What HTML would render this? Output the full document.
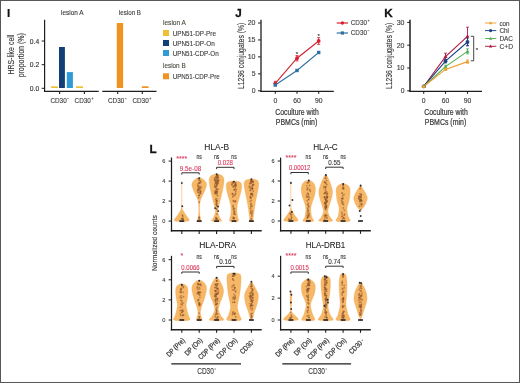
<!DOCTYPE html>
<html><head><meta charset="utf-8"><style>
html,body{margin:0;padding:0;background:#fff;}
body{width:520px;height:383px;overflow:hidden;position:relative;}
svg{position:absolute;left:0;top:0;font-family:"Liberation Sans", sans-serif;will-change:transform;}
.bd{position:absolute;left:0;top:0;width:518px;height:381px;border:1px solid #585858;}
</style></head><body>
<svg width="520" height="383" viewBox="0 0 520 383">
<text x="6.9" y="16.8" font-size="11.7" text-anchor="start" fill="#111" font-weight="bold" stroke="#111" stroke-width="0.2">I</text>
<text x="72.3" y="15.2" font-size="7" text-anchor="middle" fill="#3a3a3a" font-weight="normal" textLength="22.5" lengthAdjust="spacingAndGlyphs" stroke="#3a3a3a" stroke-width="0.12">lesion A</text>
<text x="130" y="15.2" font-size="7" text-anchor="middle" fill="#3a3a3a" font-weight="normal" textLength="22" lengthAdjust="spacingAndGlyphs" stroke="#3a3a3a" stroke-width="0.12">lesion B</text>
<line x1="44.6" y1="19.7" x2="44.6" y2="92.0" stroke="#1e1e1e" stroke-width="1.2"/>
<line x1="41.7" y1="88.3" x2="44.6" y2="88.3" stroke="#1e1e1e" stroke-width="1"/>
<text x="39.2" y="91.0" font-size="6.9" text-anchor="end" fill="#3a3a3a" font-weight="normal" textLength="9.4" lengthAdjust="spacingAndGlyphs" stroke="#3a3a3a" stroke-width="0.16">0.0</text>
<line x1="41.7" y1="64.7" x2="44.6" y2="64.7" stroke="#1e1e1e" stroke-width="1"/>
<text x="39.2" y="67.4" font-size="6.9" text-anchor="end" fill="#3a3a3a" font-weight="normal" textLength="9.4" lengthAdjust="spacingAndGlyphs" stroke="#3a3a3a" stroke-width="0.16">0.2</text>
<line x1="41.7" y1="41.0" x2="44.6" y2="41.0" stroke="#1e1e1e" stroke-width="1"/>
<text x="39.2" y="43.7" font-size="6.9" text-anchor="end" fill="#3a3a3a" font-weight="normal" textLength="9.4" lengthAdjust="spacingAndGlyphs" stroke="#3a3a3a" stroke-width="0.16">0.4</text>
<text transform="translate(14.00,54.60) rotate(-90)" font-size="8.3" text-anchor="middle" fill="#3a3a3a" stroke="#3a3a3a" stroke-width="0.15" textLength="40" lengthAdjust="spacingAndGlyphs">HRS-like cell</text>
<text transform="translate(23.80,55.30) rotate(-90)" font-size="8.3" text-anchor="middle" fill="#3a3a3a" stroke="#3a3a3a" stroke-width="0.15" textLength="44" lengthAdjust="spacingAndGlyphs">proportion (%)</text>
<line x1="44.1" y1="91.45" x2="98.7" y2="91.45" stroke="#1e1e1e" stroke-width="1.25"/>
<line x1="102.3" y1="91.45" x2="156.5" y2="91.45" stroke="#1e1e1e" stroke-width="1.25"/>
<line x1="59.6" y1="91.4" x2="59.6" y2="94.0" stroke="#1e1e1e" stroke-width="1.1"/>
<line x1="84.4" y1="91.4" x2="84.4" y2="94.0" stroke="#1e1e1e" stroke-width="1.1"/>
<line x1="117.7" y1="91.4" x2="117.7" y2="94.0" stroke="#1e1e1e" stroke-width="1.1"/>
<line x1="142.3" y1="91.4" x2="142.3" y2="94.0" stroke="#1e1e1e" stroke-width="1.1"/>
<rect x="51.1" y="86.3" width="6.9" height="1.7" fill="#EDC035"/>
<rect x="59" y="47" width="5.9" height="41" fill="#123F76"/>
<rect x="66.8" y="72.1" width="6.1" height="15.9" fill="#2F9AD6"/>
<rect x="76" y="86.3" width="7.0" height="1.7" fill="#EDC035"/>
<rect x="116.8" y="23" width="6.3" height="65" fill="#EE9220"/>
<rect x="141.8" y="86.3" width="6.8" height="1.7" fill="#EE9220"/>
<text x="50.4" y="103.0" font-size="7.5" text-anchor="start" fill="#3a3a3a" font-weight="normal" textLength="16.3" lengthAdjust="spacingAndGlyphs" stroke="#3a3a3a" stroke-width="0.12">CD30</text>
<line x1="67.3" y1="98.55" x2="68.89999999999999" y2="98.55" stroke="#3a3a3a" stroke-width="0.6"/>
<text x="74.6" y="103.0" font-size="7.5" text-anchor="start" fill="#3a3a3a" font-weight="normal" textLength="16.3" lengthAdjust="spacingAndGlyphs" stroke="#3a3a3a" stroke-width="0.12">CD30</text>
<line x1="91.49999999999999" y1="98.55" x2="93.49999999999999" y2="98.55" stroke="#3a3a3a" stroke-width="0.5"/>
<line x1="92.49999999999999" y1="97.55" x2="92.49999999999999" y2="99.55" stroke="#3a3a3a" stroke-width="0.5"/>
<text x="108.0" y="103.0" font-size="7.5" text-anchor="start" fill="#3a3a3a" font-weight="normal" textLength="16.3" lengthAdjust="spacingAndGlyphs" stroke="#3a3a3a" stroke-width="0.12">CD30</text>
<line x1="124.89999999999999" y1="98.55" x2="126.49999999999999" y2="98.55" stroke="#3a3a3a" stroke-width="0.6"/>
<text x="132.4" y="103.0" font-size="7.5" text-anchor="start" fill="#3a3a3a" font-weight="normal" textLength="16.3" lengthAdjust="spacingAndGlyphs" stroke="#3a3a3a" stroke-width="0.12">CD30</text>
<line x1="149.3" y1="98.55" x2="151.3" y2="98.55" stroke="#3a3a3a" stroke-width="0.5"/>
<line x1="150.3" y1="97.55" x2="150.3" y2="99.55" stroke="#3a3a3a" stroke-width="0.5"/>
<text x="163" y="25.3" font-size="7" text-anchor="start" fill="#4a4a40" font-weight="normal" textLength="23" lengthAdjust="spacingAndGlyphs" stroke="#4a4a40" stroke-width="0.12">lesion A</text>
<rect x="163" y="30" width="6" height="6" fill="#EDC035"/>
<text x="172.7" y="35.6" font-size="7" text-anchor="start" fill="#3a3a3a" font-weight="normal" textLength="43.3" lengthAdjust="spacingAndGlyphs" stroke="#3a3a3a" stroke-width="0.12">UPN51-DP-Pre</text>
<rect x="163" y="40" width="6" height="6" fill="#123F76"/>
<text x="172.7" y="45.6" font-size="7" text-anchor="start" fill="#3a3a3a" font-weight="normal" textLength="42" lengthAdjust="spacingAndGlyphs" stroke="#3a3a3a" stroke-width="0.12">UPN51-DP-On</text>
<rect x="163" y="50" width="6" height="6" fill="#2F9AD6"/>
<text x="172.7" y="55.6" font-size="7" text-anchor="start" fill="#3a3a3a" font-weight="normal" textLength="46" lengthAdjust="spacingAndGlyphs" stroke="#3a3a3a" stroke-width="0.12">UPN51-CDP-On</text>
<text x="163" y="68.4" font-size="7" text-anchor="start" fill="#4a4a40" font-weight="normal" textLength="22.7" lengthAdjust="spacingAndGlyphs" stroke="#4a4a40" stroke-width="0.12">lesion B</text>
<rect x="163" y="73.3" width="6" height="6" fill="#EE9220"/>
<text x="172.7" y="78.9" font-size="7" text-anchor="start" fill="#3a3a3a" font-weight="normal" textLength="47" lengthAdjust="spacingAndGlyphs" stroke="#3a3a3a" stroke-width="0.12">UPN51-CDP-Pre</text>
<text x="235.3" y="16.6" font-size="11.7" text-anchor="start" fill="#111" font-weight="bold" stroke="#111" stroke-width="0.3">J</text>
<line x1="261.0" y1="19.7" x2="261.0" y2="91.9" stroke="#1e1e1e" stroke-width="1.3"/>
<line x1="258" y1="90.8" x2="260.8" y2="90.8" stroke="#1e1e1e" stroke-width="1"/>
<text x="255.5" y="93.2" font-size="6.8" text-anchor="end" fill="#3a3a3a" font-weight="normal" textLength="3.8" lengthAdjust="spacingAndGlyphs" stroke="#3a3a3a" stroke-width="0.12">0</text>
<line x1="258" y1="73.85" x2="260.8" y2="73.85" stroke="#1e1e1e" stroke-width="1"/>
<text x="255.5" y="76.25" font-size="6.8" text-anchor="end" fill="#3a3a3a" font-weight="normal" textLength="3.8" lengthAdjust="spacingAndGlyphs" stroke="#3a3a3a" stroke-width="0.12">5</text>
<line x1="258" y1="56.9" x2="260.8" y2="56.9" stroke="#1e1e1e" stroke-width="1"/>
<text x="255.5" y="59.3" font-size="6.8" text-anchor="end" fill="#3a3a3a" font-weight="normal" textLength="7.8" lengthAdjust="spacingAndGlyphs" stroke="#3a3a3a" stroke-width="0.12">10</text>
<line x1="258" y1="39.949999999999996" x2="260.8" y2="39.949999999999996" stroke="#1e1e1e" stroke-width="1"/>
<text x="255.5" y="42.349999999999994" font-size="6.8" text-anchor="end" fill="#3a3a3a" font-weight="normal" textLength="7.8" lengthAdjust="spacingAndGlyphs" stroke="#3a3a3a" stroke-width="0.12">15</text>
<line x1="258" y1="23.0" x2="260.8" y2="23.0" stroke="#1e1e1e" stroke-width="1"/>
<text x="255.5" y="25.4" font-size="6.8" text-anchor="end" fill="#3a3a3a" font-weight="normal" textLength="7.8" lengthAdjust="spacingAndGlyphs" stroke="#3a3a3a" stroke-width="0.12">20</text>
<text transform="translate(243.90,55.90) rotate(-90)" font-size="8.8" text-anchor="middle" fill="#3a3a3a" stroke="#3a3a3a" stroke-width="0.15" textLength="66.4" lengthAdjust="spacingAndGlyphs">L1236 conjugates (%)</text>
<line x1="260.4" y1="91.3" x2="333.8" y2="91.3" stroke="#1e1e1e" stroke-width="1.3"/>
<line x1="275.3" y1="91.3" x2="275.3" y2="93.8" stroke="#1e1e1e" stroke-width="1.1"/>
<text x="275.3" y="103.2" font-size="6.8" text-anchor="middle" fill="#3a3a3a" font-weight="normal" textLength="3.8" lengthAdjust="spacingAndGlyphs" stroke="#3a3a3a" stroke-width="0.12">0</text>
<line x1="297" y1="91.3" x2="297" y2="93.8" stroke="#1e1e1e" stroke-width="1.1"/>
<text x="297" y="103.2" font-size="6.8" text-anchor="middle" fill="#3a3a3a" font-weight="normal" textLength="7.6" lengthAdjust="spacingAndGlyphs" stroke="#3a3a3a" stroke-width="0.12">60</text>
<line x1="318.7" y1="91.3" x2="318.7" y2="93.8" stroke="#1e1e1e" stroke-width="1.1"/>
<text x="318.7" y="103.2" font-size="6.8" text-anchor="middle" fill="#3a3a3a" font-weight="normal" textLength="7.6" lengthAdjust="spacingAndGlyphs" stroke="#3a3a3a" stroke-width="0.12">90</text>
<text x="297" y="115.2" font-size="8.6" text-anchor="middle" fill="#3a3a3a" font-weight="normal" textLength="43.5" lengthAdjust="spacingAndGlyphs" stroke="#3a3a3a" stroke-width="0.22">Coculture with</text>
<text x="296.5" y="124.7" font-size="8.6" text-anchor="middle" fill="#3a3a3a" font-weight="normal" textLength="41.5" lengthAdjust="spacingAndGlyphs" stroke="#3a3a3a" stroke-width="0.22">PBMCs (min)</text>
<polyline points="275.3,85.04 297,70.46 318.7,52.49" fill="none" stroke="#2F6FA2" stroke-width="1.05"/>
<polyline points="275.3,83.34 297,58.26 318.7,40.97" fill="none" stroke="#D6202F" stroke-width="1.1"/>
<line x1="275.3" y1="81.30799999999999" x2="275.3" y2="85.37599999999999" stroke="#D6202F" stroke-width="0.9"/>
<line x1="273.8" y1="81.30799999999999" x2="276.8" y2="81.30799999999999" stroke="#D6202F" stroke-width="0.8"/>
<line x1="273.8" y1="85.37599999999999" x2="276.8" y2="85.37599999999999" stroke="#D6202F" stroke-width="0.8"/>
<circle cx="275.3" cy="83.34" r="1.9" fill="#D6202F"/>
<line x1="297" y1="55.544" x2="297" y2="60.968" stroke="#D6202F" stroke-width="0.9"/>
<line x1="295.5" y1="55.544" x2="298.5" y2="55.544" stroke="#D6202F" stroke-width="0.8"/>
<line x1="295.5" y1="60.968" x2="298.5" y2="60.968" stroke="#D6202F" stroke-width="0.8"/>
<circle cx="297" cy="58.26" r="1.9" fill="#D6202F"/>
<line x1="318.7" y1="37.577" x2="318.7" y2="44.357" stroke="#D6202F" stroke-width="0.9"/>
<line x1="317.2" y1="37.577" x2="320.2" y2="37.577" stroke="#D6202F" stroke-width="0.8"/>
<line x1="317.2" y1="44.357" x2="320.2" y2="44.357" stroke="#D6202F" stroke-width="0.8"/>
<circle cx="318.7" cy="40.97" r="1.9" fill="#D6202F"/>
<rect x="273.6" y="83.34" width="3.4" height="3.4" fill="#2F6FA2"/>
<rect x="295.3" y="68.76" width="3.4" height="3.4" fill="#2F6FA2"/>
<rect x="317.0" y="50.79" width="3.4" height="3.4" fill="#2F6FA2"/>
<text x="297" y="56.2" font-size="6" text-anchor="middle" fill="#333" font-weight="normal" stroke="#333" stroke-width="0.12">*</text>
<text x="318.7" y="37.9" font-size="6" text-anchor="middle" fill="#333" font-weight="normal" stroke="#333" stroke-width="0.12">*</text>
<line x1="336.7" y1="23" x2="348" y2="23" stroke="#D6202F" stroke-width="1.2"/>
<circle cx="342.4" cy="23" r="1.7" fill="#D6202F"/>
<line x1="336.7" y1="33" x2="348" y2="33" stroke="#2F6FA2" stroke-width="1.2"/>
<rect x="340.8" y="31.4" width="3.2" height="3.2" fill="#2F6FA2"/>
<text x="350.8" y="25.3" font-size="7.8" text-anchor="start" fill="#3a3a3a" font-weight="normal" textLength="16.2" lengthAdjust="spacingAndGlyphs" stroke="#3a3a3a" stroke-width="0.12">CD30</text>
<line x1="367.6" y1="20.628" x2="369.6" y2="20.628" stroke="#3a3a3a" stroke-width="0.5"/>
<line x1="368.6" y1="19.628" x2="368.6" y2="21.628" stroke="#3a3a3a" stroke-width="0.5"/>
<text x="350.8" y="35.3" font-size="7.8" text-anchor="start" fill="#3a3a3a" font-weight="normal" textLength="16.2" lengthAdjust="spacingAndGlyphs" stroke="#3a3a3a" stroke-width="0.12">CD30</text>
<line x1="367.6" y1="30.628" x2="369.20000000000005" y2="30.628" stroke="#3a3a3a" stroke-width="0.6"/>
<text x="384.3" y="16.6" font-size="11.7" text-anchor="start" fill="#111" font-weight="bold" stroke="#111" stroke-width="0.3">K</text>
<line x1="410" y1="19.7" x2="410" y2="91.9" stroke="#1e1e1e" stroke-width="1.5"/>
<line x1="407.2" y1="90.8" x2="410" y2="90.8" stroke="#1e1e1e" stroke-width="1"/>
<text x="404.5" y="93.2" font-size="6.8" text-anchor="end" fill="#3a3a3a" font-weight="normal" textLength="3.8" lengthAdjust="spacingAndGlyphs" stroke="#3a3a3a" stroke-width="0.12">0</text>
<line x1="407.2" y1="68.0" x2="410" y2="68.0" stroke="#1e1e1e" stroke-width="1"/>
<text x="404.5" y="70.4" font-size="6.8" text-anchor="end" fill="#3a3a3a" font-weight="normal" textLength="7.8" lengthAdjust="spacingAndGlyphs" stroke="#3a3a3a" stroke-width="0.12">10</text>
<line x1="407.2" y1="45.2" x2="410" y2="45.2" stroke="#1e1e1e" stroke-width="1"/>
<text x="404.5" y="47.6" font-size="6.8" text-anchor="end" fill="#3a3a3a" font-weight="normal" textLength="7.8" lengthAdjust="spacingAndGlyphs" stroke="#3a3a3a" stroke-width="0.12">20</text>
<line x1="407.2" y1="22.400000000000006" x2="410" y2="22.400000000000006" stroke="#1e1e1e" stroke-width="1"/>
<text x="404.5" y="24.800000000000004" font-size="6.8" text-anchor="end" fill="#3a3a3a" font-weight="normal" textLength="7.8" lengthAdjust="spacingAndGlyphs" stroke="#3a3a3a" stroke-width="0.12">30</text>
<text transform="translate(392.10,55.90) rotate(-90)" font-size="8.8" text-anchor="middle" fill="#3a3a3a" stroke="#3a3a3a" stroke-width="0.15" textLength="66.4" lengthAdjust="spacingAndGlyphs">L1236 conjugates (%)</text>
<line x1="409.3" y1="91.3" x2="482" y2="91.3" stroke="#1e1e1e" stroke-width="1.3"/>
<line x1="423.7" y1="91.3" x2="423.7" y2="93.8" stroke="#1e1e1e" stroke-width="1.1"/>
<text x="423.7" y="103.2" font-size="6.8" text-anchor="middle" fill="#3a3a3a" font-weight="normal" textLength="3.8" lengthAdjust="spacingAndGlyphs" stroke="#3a3a3a" stroke-width="0.12">0</text>
<line x1="445.5" y1="91.3" x2="445.5" y2="93.8" stroke="#1e1e1e" stroke-width="1.1"/>
<text x="445.5" y="103.2" font-size="6.8" text-anchor="middle" fill="#3a3a3a" font-weight="normal" textLength="7.6" lengthAdjust="spacingAndGlyphs" stroke="#3a3a3a" stroke-width="0.12">60</text>
<line x1="467.5" y1="91.3" x2="467.5" y2="93.8" stroke="#1e1e1e" stroke-width="1.1"/>
<text x="467.5" y="103.2" font-size="6.8" text-anchor="middle" fill="#3a3a3a" font-weight="normal" textLength="7.6" lengthAdjust="spacingAndGlyphs" stroke="#3a3a3a" stroke-width="0.12">90</text>
<text x="446" y="115.2" font-size="8.6" text-anchor="middle" fill="#3a3a3a" font-weight="normal" textLength="43.5" lengthAdjust="spacingAndGlyphs" stroke="#3a3a3a" stroke-width="0.22">Coculture with</text>
<text x="445.5" y="124.7" font-size="8.6" text-anchor="middle" fill="#3a3a3a" font-weight="normal" textLength="41.5" lengthAdjust="spacingAndGlyphs" stroke="#3a3a3a" stroke-width="0.22">PBMCs (min)</text>
<polyline points="423.7,86.47 445.5,56.60 467.5,36.31" fill="none" stroke="#AE1A3E" stroke-width="1.1"/>
<polyline points="423.7,86.47 445.5,61.16 467.5,42.01" fill="none" stroke="#1A4286" stroke-width="1.1"/>
<polyline points="423.7,86.47 445.5,66.63 467.5,51.36" fill="none" stroke="#52AE52" stroke-width="1.1"/>
<polyline points="423.7,86.47 445.5,69.37 467.5,61.62" fill="none" stroke="#EE9E2E" stroke-width="1.1"/>
<line x1="423.7" y1="85.78399999999999" x2="423.7" y2="87.152" stroke="#AE1A3E" stroke-width="0.9"/>
<line x1="422.2" y1="85.78399999999999" x2="425.2" y2="85.78399999999999" stroke="#AE1A3E" stroke-width="0.8"/>
<line x1="422.2" y1="87.152" x2="425.2" y2="87.152" stroke="#AE1A3E" stroke-width="0.8"/>
<path d="M421.7,87.77 L425.7,87.77 L423.7,84.47Z" fill="#AE1A3E"/>
<line x1="445.5" y1="53.18" x2="445.5" y2="60.019999999999996" stroke="#AE1A3E" stroke-width="0.9"/>
<line x1="444.0" y1="53.18" x2="447.0" y2="53.18" stroke="#AE1A3E" stroke-width="0.8"/>
<line x1="444.0" y1="60.019999999999996" x2="447.0" y2="60.019999999999996" stroke="#AE1A3E" stroke-width="0.8"/>
<path d="M443.5,57.90 L447.5,57.90 L445.5,54.60Z" fill="#AE1A3E"/>
<line x1="467.5" y1="27.188000000000002" x2="467.5" y2="45.428000000000004" stroke="#AE1A3E" stroke-width="0.9"/>
<line x1="466.0" y1="27.188000000000002" x2="469.0" y2="27.188000000000002" stroke="#AE1A3E" stroke-width="0.8"/>
<line x1="466.0" y1="45.428000000000004" x2="469.0" y2="45.428000000000004" stroke="#AE1A3E" stroke-width="0.8"/>
<path d="M465.5,37.61 L469.5,37.61 L467.5,34.31Z" fill="#AE1A3E"/>
<line x1="423.7" y1="85.78399999999999" x2="423.7" y2="87.152" stroke="#1A4286" stroke-width="0.9"/>
<line x1="422.2" y1="85.78399999999999" x2="425.2" y2="85.78399999999999" stroke="#1A4286" stroke-width="0.8"/>
<line x1="422.2" y1="87.152" x2="425.2" y2="87.152" stroke="#1A4286" stroke-width="0.8"/>
<circle cx="423.7" cy="86.47" r="1.9" fill="#1A4286"/>
<line x1="445.5" y1="59.336" x2="445.5" y2="62.984" stroke="#1A4286" stroke-width="0.9"/>
<line x1="444.0" y1="59.336" x2="447.0" y2="59.336" stroke="#1A4286" stroke-width="0.8"/>
<line x1="444.0" y1="62.984" x2="447.0" y2="62.984" stroke="#1A4286" stroke-width="0.8"/>
<circle cx="445.5" cy="61.16" r="1.9" fill="#1A4286"/>
<line x1="467.5" y1="38.132000000000005" x2="467.5" y2="45.884" stroke="#1A4286" stroke-width="0.9"/>
<line x1="466.0" y1="38.132000000000005" x2="469.0" y2="38.132000000000005" stroke="#1A4286" stroke-width="0.8"/>
<line x1="466.0" y1="45.884" x2="469.0" y2="45.884" stroke="#1A4286" stroke-width="0.8"/>
<circle cx="467.5" cy="42.01" r="1.9" fill="#1A4286"/>
<line x1="423.7" y1="85.78399999999999" x2="423.7" y2="87.152" stroke="#52AE52" stroke-width="0.9"/>
<line x1="422.2" y1="85.78399999999999" x2="425.2" y2="85.78399999999999" stroke="#52AE52" stroke-width="0.8"/>
<line x1="422.2" y1="87.152" x2="425.2" y2="87.152" stroke="#52AE52" stroke-width="0.8"/>
<path d="M421.7,87.77 L425.7,87.77 L423.7,84.47Z" fill="#52AE52"/>
<line x1="445.5" y1="65.264" x2="445.5" y2="68.0" stroke="#52AE52" stroke-width="0.9"/>
<line x1="444.0" y1="65.264" x2="447.0" y2="65.264" stroke="#52AE52" stroke-width="0.8"/>
<line x1="444.0" y1="68.0" x2="447.0" y2="68.0" stroke="#52AE52" stroke-width="0.8"/>
<path d="M443.5,67.93 L447.5,67.93 L445.5,64.63Z" fill="#52AE52"/>
<line x1="467.5" y1="48.848" x2="467.5" y2="53.864000000000004" stroke="#52AE52" stroke-width="0.9"/>
<line x1="466.0" y1="48.848" x2="469.0" y2="48.848" stroke="#52AE52" stroke-width="0.8"/>
<line x1="466.0" y1="53.864000000000004" x2="469.0" y2="53.864000000000004" stroke="#52AE52" stroke-width="0.8"/>
<path d="M465.5,52.66 L469.5,52.66 L467.5,49.36Z" fill="#52AE52"/>
<line x1="423.7" y1="85.78399999999999" x2="423.7" y2="87.152" stroke="#EE9E2E" stroke-width="0.9"/>
<line x1="422.2" y1="85.78399999999999" x2="425.2" y2="85.78399999999999" stroke="#EE9E2E" stroke-width="0.8"/>
<line x1="422.2" y1="87.152" x2="425.2" y2="87.152" stroke="#EE9E2E" stroke-width="0.8"/>
<path d="M421.7,87.77 L425.7,87.77 L423.7,84.47Z" fill="#EE9E2E"/>
<line x1="445.5" y1="68.228" x2="445.5" y2="70.508" stroke="#EE9E2E" stroke-width="0.9"/>
<line x1="444.0" y1="68.228" x2="447.0" y2="68.228" stroke="#EE9E2E" stroke-width="0.8"/>
<line x1="444.0" y1="70.508" x2="447.0" y2="70.508" stroke="#EE9E2E" stroke-width="0.8"/>
<path d="M443.5,70.67 L447.5,70.67 L445.5,67.37Z" fill="#EE9E2E"/>
<line x1="467.5" y1="60.019999999999996" x2="467.5" y2="63.211999999999996" stroke="#EE9E2E" stroke-width="0.9"/>
<line x1="466.0" y1="60.019999999999996" x2="469.0" y2="60.019999999999996" stroke="#EE9E2E" stroke-width="0.8"/>
<line x1="466.0" y1="63.211999999999996" x2="469.0" y2="63.211999999999996" stroke="#EE9E2E" stroke-width="0.8"/>
<path d="M465.5,62.92 L469.5,62.92 L467.5,59.62Z" fill="#EE9E2E"/>
<path d="M470.8,36.3 H473.7 V60.8 H470.8" fill="none" stroke="#333" stroke-width="0.9"/>
<text x="476.8" y="52.2" font-size="6" text-anchor="middle" fill="#333" font-weight="normal" stroke="#333" stroke-width="0.12">*</text>
<line x1="485" y1="23" x2="496.3" y2="23" stroke="#EE9E2E" stroke-width="0.95"/>
<path d="M488.9,24.2 L492.3,24.2 L490.6,21.3Z" fill="#EE9E2E"/>
<text x="499.4" y="25.5" font-size="7.2" text-anchor="start" fill="#3a3a3a" font-weight="normal" textLength="10.2" lengthAdjust="spacingAndGlyphs" stroke="#3a3a3a" stroke-width="0.12">con</text>
<line x1="485" y1="30.6" x2="496.3" y2="30.6" stroke="#1A4286" stroke-width="0.95"/>
<circle cx="490.6" cy="30.6" r="1.6" fill="#1A4286"/>
<text x="499.4" y="33.1" font-size="7.2" text-anchor="start" fill="#3a3a3a" font-weight="normal" textLength="9.6" lengthAdjust="spacingAndGlyphs" stroke="#3a3a3a" stroke-width="0.12">Chi</text>
<line x1="485" y1="38.5" x2="496.3" y2="38.5" stroke="#52AE52" stroke-width="0.95"/>
<path d="M488.9,39.7 L492.3,39.7 L490.6,36.8Z" fill="#52AE52"/>
<text x="499.4" y="41.0" font-size="7.2" text-anchor="start" fill="#3a3a3a" font-weight="normal" textLength="13.6" lengthAdjust="spacingAndGlyphs" stroke="#3a3a3a" stroke-width="0.12">DAC</text>
<line x1="485" y1="46.3" x2="496.3" y2="46.3" stroke="#AE1A3E" stroke-width="0.95"/>
<path d="M488.9,47.5 L492.3,47.5 L490.6,44.599999999999994Z" fill="#AE1A3E"/>
<text x="499.4" y="48.8" font-size="7.2" text-anchor="start" fill="#3a3a3a" font-weight="normal" textLength="13.6" lengthAdjust="spacingAndGlyphs" stroke="#3a3a3a" stroke-width="0.12">C+D</text>
<text x="149.6" y="152.8" font-size="11.7" text-anchor="start" fill="#111" font-weight="bold" stroke="#111" stroke-width="0.3">L</text>
<text x="216.7" y="149.70000000000002" font-size="8.3" text-anchor="middle" fill="#222" font-weight="normal" textLength="24.8" lengthAdjust="spacingAndGlyphs" stroke="#222" stroke-width="0.08">HLA-B</text>
<line x1="171.5" y1="157.5" x2="171.5" y2="231.5" stroke="#1e1e1e" stroke-width="1.25"/>
<line x1="168.6" y1="221.1" x2="171.5" y2="221.1" stroke="#1e1e1e" stroke-width="1"/>
<text x="163.9" y="223.1" font-size="5.6" text-anchor="middle" fill="#3a3a3a" font-weight="normal" stroke="#3a3a3a" stroke-width="0.1">0</text>
<line x1="168.6" y1="201.1" x2="171.5" y2="201.1" stroke="#1e1e1e" stroke-width="1"/>
<text x="163.9" y="203.1" font-size="5.6" text-anchor="middle" fill="#3a3a3a" font-weight="normal" stroke="#3a3a3a" stroke-width="0.1">2</text>
<line x1="168.6" y1="181.1" x2="171.5" y2="181.1" stroke="#1e1e1e" stroke-width="1"/>
<text x="163.9" y="183.1" font-size="5.6" text-anchor="middle" fill="#3a3a3a" font-weight="normal" stroke="#3a3a3a" stroke-width="0.1">4</text>
<line x1="168.6" y1="161.1" x2="171.5" y2="161.1" stroke="#1e1e1e" stroke-width="1"/>
<text x="163.9" y="163.1" font-size="5.6" text-anchor="middle" fill="#3a3a3a" font-weight="normal" stroke="#3a3a3a" stroke-width="0.1">6</text>
<line x1="170.8" y1="230.85" x2="261.7" y2="230.85" stroke="#1e1e1e" stroke-width="1.5"/>
<line x1="181.8" y1="230.85" x2="181.8" y2="233.9" stroke="#1e1e1e" stroke-width="1.1"/>
<line x1="199.20000000000002" y1="230.85" x2="199.20000000000002" y2="233.9" stroke="#1e1e1e" stroke-width="1.1"/>
<line x1="216.60000000000002" y1="230.85" x2="216.60000000000002" y2="233.9" stroke="#1e1e1e" stroke-width="1.1"/>
<line x1="234.0" y1="230.85" x2="234.0" y2="233.9" stroke="#1e1e1e" stroke-width="1.1"/>
<line x1="251.4" y1="230.85" x2="251.4" y2="233.9" stroke="#1e1e1e" stroke-width="1.1"/>
<path d="M181.80,221.90 C182.88,221.77 187.07,221.48 188.30,221.10 C189.53,220.72 189.58,220.60 189.20,219.60 C188.82,218.60 186.97,216.52 186.00,215.10 C185.03,213.68 184.02,212.18 183.40,211.10 C182.78,210.02 182.55,209.60 182.30,208.60 C182.05,207.60 181.99,209.35 181.92,205.10 C181.85,200.85 181.92,186.85 181.90,183.10 C181.88,179.35 181.82,182.68 181.80,182.60 L181.80,182.60 C181.78,182.68 181.72,179.35 181.70,183.10 C181.68,186.85 181.75,200.85 181.68,205.10 C181.61,209.35 181.55,207.60 181.30,208.60 C181.05,209.60 180.82,210.02 180.20,211.10 C179.58,212.18 178.57,213.68 177.60,215.10 C176.63,216.52 174.78,218.60 174.40,219.60 C174.02,220.60 174.07,220.72 175.30,221.10 C176.53,221.48 180.72,221.77 181.80,221.90Z" fill="#F6B767" stroke="#EDA855" stroke-width="0.25"/>
<circle cx="182.80" cy="216.17" r="0.85" fill="#8e5329" opacity="0.6"/>
<circle cx="182.78" cy="219.52" r="0.85" fill="#8e5329" opacity="0.6"/>
<circle cx="181.96" cy="218.48" r="0.85" fill="#8e5329" opacity="0.6"/>
<circle cx="181.55" cy="218.54" r="0.85" fill="#8e5329" opacity="0.6"/>
<circle cx="182.03" cy="218.82" r="0.85" fill="#8e5329" opacity="0.6"/>
<circle cx="182.37" cy="215.19" r="0.85" fill="#8e5329" opacity="0.6"/>
<circle cx="182.96" cy="218.34" r="0.85" fill="#8e5329" opacity="0.6"/>
<circle cx="182.61" cy="218.52" r="0.85" fill="#8e5329" opacity="0.6"/>
<circle cx="183.19" cy="219.39" r="0.85" fill="#8e5329" opacity="0.6"/>
<circle cx="181.80" cy="183.10" r="0.95" fill="#2a2a35"/>
<circle cx="182.30" cy="206.30" r="0.95" fill="#2a2a35"/>
<rect x="179.4" y="220.2" width="4.8" height="1.8" fill="#3a3030"/>
<path d="M199.20,221.90 C199.57,221.77 201.20,221.73 201.40,221.10 C201.60,220.47 200.68,219.60 200.40,218.10 C200.12,216.60 199.80,214.27 199.70,212.10 C199.60,209.93 199.65,207.10 199.80,205.10 C199.95,203.10 200.10,201.77 200.60,200.10 C201.10,198.43 201.98,196.93 202.80,195.10 C203.62,193.27 204.87,190.85 205.50,189.10 C206.13,187.35 206.65,185.93 206.60,184.60 C206.55,183.27 206.10,182.18 205.20,181.10 C204.30,180.02 202.20,178.68 201.20,178.10 C200.20,177.52 199.53,177.68 199.20,177.60 L199.20,177.60 C198.87,177.68 198.20,177.52 197.20,178.10 C196.20,178.68 194.10,180.02 193.20,181.10 C192.30,182.18 191.85,183.27 191.80,184.60 C191.75,185.93 192.27,187.35 192.90,189.10 C193.53,190.85 194.78,193.27 195.60,195.10 C196.42,196.93 197.30,198.43 197.80,200.10 C198.30,201.77 198.45,203.10 198.60,205.10 C198.75,207.10 198.80,209.93 198.70,212.10 C198.60,214.27 198.28,216.60 198.00,218.10 C197.72,219.60 196.80,220.47 197.00,221.10 C197.20,221.73 198.83,221.77 199.20,221.90Z" fill="#F6B767" stroke="#EDA855" stroke-width="0.25"/>
<circle cx="199.42" cy="217.25" r="0.85" fill="#8e5329" opacity="0.6"/>
<circle cx="198.47" cy="189.06" r="0.85" fill="#8e5329" opacity="0.6"/>
<circle cx="199.06" cy="195.48" r="0.85" fill="#8e5329" opacity="0.6"/>
<circle cx="199.04" cy="180.20" r="0.85" fill="#8e5329" opacity="0.6"/>
<circle cx="199.17" cy="218.11" r="0.85" fill="#8e5329" opacity="0.6"/>
<circle cx="199.44" cy="182.59" r="0.85" fill="#8e5329" opacity="0.6"/>
<circle cx="200.42" cy="191.61" r="0.85" fill="#8e5329" opacity="0.6"/>
<circle cx="200.89" cy="186.53" r="0.85" fill="#8e5329" opacity="0.6"/>
<circle cx="198.62" cy="187.94" r="0.85" fill="#8e5329" opacity="0.6"/>
<circle cx="199.05" cy="188.31" r="0.85" fill="#8e5329" opacity="0.6"/>
<circle cx="200.40" cy="181.22" r="0.85" fill="#8e5329" opacity="0.6"/>
<circle cx="199.04" cy="182.96" r="0.85" fill="#8e5329" opacity="0.6"/>
<circle cx="198.18" cy="189.56" r="0.85" fill="#8e5329" opacity="0.6"/>
<circle cx="200.58" cy="190.57" r="0.85" fill="#8e5329" opacity="0.6"/>
<circle cx="200.92" cy="181.78" r="0.85" fill="#8e5329" opacity="0.6"/>
<circle cx="199.26" cy="190.29" r="0.85" fill="#8e5329" opacity="0.6"/>
<circle cx="198.66" cy="192.57" r="0.85" fill="#8e5329" opacity="0.6"/>
<circle cx="200.01" cy="193.73" r="0.85" fill="#8e5329" opacity="0.6"/>
<circle cx="199.79" cy="188.69" r="0.85" fill="#8e5329" opacity="0.6"/>
<circle cx="199.29" cy="183.27" r="0.85" fill="#8e5329" opacity="0.6"/>
<circle cx="197.95" cy="184.16" r="0.85" fill="#8e5329" opacity="0.6"/>
<circle cx="200.08" cy="183.06" r="0.85" fill="#8e5329" opacity="0.6"/>
<circle cx="200.60" cy="191.68" r="0.85" fill="#8e5329" opacity="0.6"/>
<circle cx="197.85" cy="185.85" r="0.85" fill="#8e5329" opacity="0.6"/>
<circle cx="197.70" cy="190.90" r="0.85" fill="#8e5329" opacity="0.6"/>
<circle cx="198.49" cy="178.51" r="0.85" fill="#8e5329" opacity="0.6"/>
<circle cx="200.80" cy="187.81" r="0.85" fill="#8e5329" opacity="0.6"/>
<circle cx="200.00" cy="188.24" r="0.85" fill="#8e5329" opacity="0.6"/>
<circle cx="198.03" cy="192.18" r="0.85" fill="#8e5329" opacity="0.6"/>
<circle cx="199.23" cy="195.32" r="0.85" fill="#8e5329" opacity="0.6"/>
<circle cx="199.47" cy="179.77" r="0.85" fill="#8e5329" opacity="0.6"/>
<circle cx="199.24" cy="202.18" r="0.85" fill="#8e5329" opacity="0.6"/>
<circle cx="198.98" cy="217.24" r="0.85" fill="#8e5329" opacity="0.6"/>
<circle cx="200.49" cy="193.24" r="0.85" fill="#8e5329" opacity="0.6"/>
<circle cx="198.18" cy="186.39" r="0.85" fill="#8e5329" opacity="0.6"/>
<circle cx="199.11" cy="219.40" r="0.85" fill="#8e5329" opacity="0.6"/>
<circle cx="197.74" cy="189.56" r="0.85" fill="#8e5329" opacity="0.6"/>
<circle cx="200.31" cy="192.97" r="0.85" fill="#8e5329" opacity="0.6"/>
<circle cx="199.03" cy="195.49" r="0.85" fill="#8e5329" opacity="0.6"/>
<circle cx="198.61" cy="197.81" r="0.85" fill="#8e5329" opacity="0.6"/>
<circle cx="199.28" cy="186.29" r="0.85" fill="#8e5329" opacity="0.6"/>
<circle cx="199.20" cy="178.10" r="0.95" fill="#2a2a35"/>
<rect x="196.8" y="220.2" width="4.8" height="1.8" fill="#3a3030"/>
<path d="M216.60,221.90 C217.43,221.77 221.03,221.73 221.60,221.10 C222.17,220.47 220.58,219.35 220.00,218.10 C219.42,216.85 218.45,214.85 218.10,213.60 C217.75,212.35 217.78,211.85 217.90,210.60 C218.02,209.35 218.35,208.02 218.80,206.10 C219.25,204.18 219.98,201.60 220.60,199.10 C221.22,196.60 222.00,193.43 222.50,191.10 C223.00,188.77 223.33,186.93 223.60,185.10 C223.87,183.27 224.20,181.52 224.10,180.10 C224.00,178.68 223.67,177.52 223.00,176.60 C222.33,175.68 221.17,175.05 220.10,174.60 C219.03,174.15 217.18,174.02 216.60,173.90 L216.60,173.90 C216.02,174.02 214.17,174.15 213.10,174.60 C212.03,175.05 210.87,175.68 210.20,176.60 C209.53,177.52 209.20,178.68 209.10,180.10 C209.00,181.52 209.33,183.27 209.60,185.10 C209.87,186.93 210.20,188.77 210.70,191.10 C211.20,193.43 211.98,196.60 212.60,199.10 C213.22,201.60 213.95,204.18 214.40,206.10 C214.85,208.02 215.18,209.35 215.30,210.60 C215.42,211.85 215.45,212.35 215.10,213.60 C214.75,214.85 213.78,216.85 213.20,218.10 C212.62,219.35 211.03,220.47 211.60,221.10 C212.17,221.73 215.77,221.77 216.60,221.90Z" fill="#F6B767" stroke="#EDA855" stroke-width="0.25"/>
<circle cx="214.89" cy="191.32" r="0.85" fill="#8e5329" opacity="0.6"/>
<circle cx="215.43" cy="181.75" r="0.85" fill="#8e5329" opacity="0.6"/>
<circle cx="217.21" cy="181.79" r="0.85" fill="#8e5329" opacity="0.6"/>
<circle cx="217.68" cy="180.36" r="0.85" fill="#8e5329" opacity="0.6"/>
<circle cx="217.57" cy="189.25" r="0.85" fill="#8e5329" opacity="0.6"/>
<circle cx="215.06" cy="192.88" r="0.85" fill="#8e5329" opacity="0.6"/>
<circle cx="217.58" cy="180.48" r="0.85" fill="#8e5329" opacity="0.6"/>
<circle cx="218.48" cy="179.88" r="0.85" fill="#8e5329" opacity="0.6"/>
<circle cx="214.98" cy="179.88" r="0.85" fill="#8e5329" opacity="0.6"/>
<circle cx="216.76" cy="202.16" r="0.85" fill="#8e5329" opacity="0.6"/>
<circle cx="217.95" cy="189.26" r="0.85" fill="#8e5329" opacity="0.6"/>
<circle cx="215.21" cy="193.68" r="0.85" fill="#8e5329" opacity="0.6"/>
<circle cx="216.17" cy="201.05" r="0.85" fill="#8e5329" opacity="0.6"/>
<circle cx="214.68" cy="184.85" r="0.85" fill="#8e5329" opacity="0.6"/>
<circle cx="217.35" cy="191.82" r="0.85" fill="#8e5329" opacity="0.6"/>
<circle cx="217.94" cy="175.28" r="0.85" fill="#8e5329" opacity="0.6"/>
<circle cx="216.74" cy="205.60" r="0.85" fill="#8e5329" opacity="0.6"/>
<circle cx="216.41" cy="218.18" r="0.85" fill="#8e5329" opacity="0.6"/>
<circle cx="215.04" cy="192.01" r="0.85" fill="#8e5329" opacity="0.6"/>
<circle cx="218.66" cy="180.38" r="0.85" fill="#8e5329" opacity="0.6"/>
<circle cx="216.43" cy="179.07" r="0.85" fill="#8e5329" opacity="0.6"/>
<circle cx="217.00" cy="192.68" r="0.85" fill="#8e5329" opacity="0.6"/>
<circle cx="216.33" cy="177.08" r="0.85" fill="#8e5329" opacity="0.6"/>
<circle cx="215.81" cy="187.04" r="0.85" fill="#8e5329" opacity="0.6"/>
<circle cx="216.74" cy="175.40" r="0.85" fill="#8e5329" opacity="0.6"/>
<circle cx="216.79" cy="219.08" r="0.85" fill="#8e5329" opacity="0.6"/>
<circle cx="217.05" cy="191.03" r="0.85" fill="#8e5329" opacity="0.6"/>
<circle cx="214.81" cy="186.24" r="0.85" fill="#8e5329" opacity="0.6"/>
<circle cx="216.15" cy="192.81" r="0.85" fill="#8e5329" opacity="0.6"/>
<circle cx="216.19" cy="192.68" r="0.85" fill="#8e5329" opacity="0.6"/>
<circle cx="216.89" cy="184.69" r="0.85" fill="#8e5329" opacity="0.6"/>
<circle cx="215.47" cy="186.37" r="0.85" fill="#8e5329" opacity="0.6"/>
<circle cx="215.25" cy="183.27" r="0.85" fill="#8e5329" opacity="0.6"/>
<circle cx="215.70" cy="199.21" r="0.85" fill="#8e5329" opacity="0.6"/>
<circle cx="217.49" cy="195.66" r="0.85" fill="#8e5329" opacity="0.6"/>
<circle cx="215.62" cy="181.70" r="0.85" fill="#8e5329" opacity="0.6"/>
<circle cx="217.92" cy="183.11" r="0.85" fill="#8e5329" opacity="0.6"/>
<circle cx="216.26" cy="203.99" r="0.85" fill="#8e5329" opacity="0.6"/>
<circle cx="215.94" cy="183.72" r="0.85" fill="#8e5329" opacity="0.6"/>
<circle cx="216.41" cy="200.76" r="0.85" fill="#8e5329" opacity="0.6"/>
<circle cx="214.57" cy="177.99" r="0.85" fill="#8e5329" opacity="0.6"/>
<circle cx="217.70" cy="174.99" r="0.85" fill="#8e5329" opacity="0.6"/>
<circle cx="217.59" cy="177.68" r="0.85" fill="#8e5329" opacity="0.6"/>
<circle cx="216.68" cy="181.78" r="0.85" fill="#8e5329" opacity="0.6"/>
<circle cx="216.68" cy="209.32" r="0.85" fill="#8e5329" opacity="0.6"/>
<circle cx="216.93" cy="179.08" r="0.85" fill="#8e5329" opacity="0.6"/>
<circle cx="216.28" cy="189.64" r="0.85" fill="#8e5329" opacity="0.6"/>
<circle cx="215.97" cy="177.16" r="0.85" fill="#8e5329" opacity="0.6"/>
<circle cx="216.66" cy="203.70" r="0.85" fill="#8e5329" opacity="0.6"/>
<circle cx="217.87" cy="182.68" r="0.85" fill="#8e5329" opacity="0.6"/>
<circle cx="217.92" cy="177.94" r="0.85" fill="#8e5329" opacity="0.6"/>
<circle cx="215.58" cy="180.61" r="0.85" fill="#8e5329" opacity="0.6"/>
<circle cx="217.20" cy="200.48" r="0.85" fill="#8e5329" opacity="0.6"/>
<circle cx="215.67" cy="219.52" r="0.85" fill="#8e5329" opacity="0.6"/>
<circle cx="217.07" cy="213.97" r="0.85" fill="#8e5329" opacity="0.6"/>
<circle cx="216.61" cy="180.98" r="0.85" fill="#8e5329" opacity="0.6"/>
<circle cx="216.39" cy="205.32" r="0.85" fill="#8e5329" opacity="0.6"/>
<circle cx="216.10" cy="190.36" r="0.85" fill="#8e5329" opacity="0.6"/>
<circle cx="214.93" cy="187.23" r="0.85" fill="#8e5329" opacity="0.6"/>
<circle cx="216.15" cy="191.44" r="0.85" fill="#8e5329" opacity="0.6"/>
<circle cx="216.69" cy="198.77" r="0.85" fill="#8e5329" opacity="0.6"/>
<circle cx="216.31" cy="188.18" r="0.85" fill="#8e5329" opacity="0.6"/>
<circle cx="218.18" cy="177.27" r="0.85" fill="#8e5329" opacity="0.6"/>
<circle cx="216.45" cy="183.85" r="0.85" fill="#8e5329" opacity="0.6"/>
<circle cx="217.60" cy="183.78" r="0.85" fill="#8e5329" opacity="0.6"/>
<circle cx="216.87" cy="194.11" r="0.85" fill="#8e5329" opacity="0.6"/>
<circle cx="217.27" cy="219.38" r="0.85" fill="#8e5329" opacity="0.6"/>
<circle cx="215.83" cy="217.60" r="0.85" fill="#8e5329" opacity="0.6"/>
<circle cx="214.48" cy="179.80" r="0.85" fill="#8e5329" opacity="0.6"/>
<circle cx="218.12" cy="181.56" r="0.85" fill="#8e5329" opacity="0.6"/>
<circle cx="217.73" cy="176.55" r="0.85" fill="#8e5329" opacity="0.6"/>
<circle cx="215.90" cy="177.36" r="0.85" fill="#8e5329" opacity="0.6"/>
<circle cx="216.35" cy="208.66" r="0.85" fill="#8e5329" opacity="0.6"/>
<circle cx="216.23" cy="191.76" r="0.85" fill="#8e5329" opacity="0.6"/>
<circle cx="216.33" cy="202.99" r="0.85" fill="#8e5329" opacity="0.6"/>
<circle cx="216.60" cy="200.70" r="0.85" fill="#8e5329" opacity="0.6"/>
<circle cx="217.34" cy="175.62" r="0.85" fill="#8e5329" opacity="0.6"/>
<circle cx="216.67" cy="185.42" r="0.85" fill="#8e5329" opacity="0.6"/>
<circle cx="214.86" cy="179.04" r="0.85" fill="#8e5329" opacity="0.6"/>
<circle cx="216.67" cy="185.78" r="0.85" fill="#8e5329" opacity="0.6"/>
<circle cx="216.87" cy="205.37" r="0.85" fill="#8e5329" opacity="0.6"/>
<circle cx="217.37" cy="176.51" r="0.85" fill="#8e5329" opacity="0.6"/>
<circle cx="215.68" cy="193.17" r="0.85" fill="#8e5329" opacity="0.6"/>
<circle cx="216.34" cy="218.55" r="0.85" fill="#8e5329" opacity="0.6"/>
<circle cx="216.52" cy="182.46" r="0.85" fill="#8e5329" opacity="0.6"/>
<circle cx="216.60" cy="174.30" r="0.95" fill="#2a2a35"/>
<circle cx="215.10" cy="208.10" r="0.95" fill="#2a2a35"/>
<circle cx="218.20" cy="211.10" r="0.95" fill="#2a2a35"/>
<circle cx="218.00" cy="206.60" r="0.95" fill="#2a2a35"/>
<rect x="214.20000000000002" y="220.2" width="4.8" height="1.8" fill="#3a3030"/>
<path d="M234.00,221.90 C234.75,221.77 237.92,222.07 238.50,221.10 C239.08,220.13 237.75,217.77 237.50,216.10 C237.25,214.43 237.02,212.93 237.00,211.10 C236.98,209.27 237.02,207.27 237.40,205.10 C237.78,202.93 238.67,200.43 239.30,198.10 C239.93,195.77 240.78,193.27 241.20,191.10 C241.62,188.93 242.00,186.60 241.80,185.10 C241.60,183.60 241.30,182.82 240.00,182.10 C238.70,181.38 235.00,181.02 234.00,180.80 L234.00,180.80 C233.00,181.02 229.30,181.38 228.00,182.10 C226.70,182.82 226.40,183.60 226.20,185.10 C226.00,186.60 226.38,188.93 226.80,191.10 C227.22,193.27 228.07,195.77 228.70,198.10 C229.33,200.43 230.22,202.93 230.60,205.10 C230.98,207.27 231.02,209.27 231.00,211.10 C230.98,212.93 230.75,214.43 230.50,216.10 C230.25,217.77 228.92,220.13 229.50,221.10 C230.08,222.07 233.25,221.77 234.00,221.90Z" fill="#F6B767" stroke="#EDA855" stroke-width="0.25"/>
<circle cx="233.81" cy="210.56" r="0.85" fill="#8e5329" opacity="0.6"/>
<circle cx="233.81" cy="213.66" r="0.85" fill="#8e5329" opacity="0.6"/>
<circle cx="235.18" cy="184.44" r="0.85" fill="#8e5329" opacity="0.6"/>
<circle cx="233.26" cy="209.00" r="0.85" fill="#8e5329" opacity="0.6"/>
<circle cx="235.36" cy="187.85" r="0.85" fill="#8e5329" opacity="0.6"/>
<circle cx="234.24" cy="212.19" r="0.85" fill="#8e5329" opacity="0.6"/>
<circle cx="235.61" cy="191.57" r="0.85" fill="#8e5329" opacity="0.6"/>
<circle cx="232.75" cy="193.87" r="0.85" fill="#8e5329" opacity="0.6"/>
<circle cx="235.14" cy="201.46" r="0.85" fill="#8e5329" opacity="0.6"/>
<circle cx="233.08" cy="186.45" r="0.85" fill="#8e5329" opacity="0.6"/>
<circle cx="235.75" cy="184.79" r="0.85" fill="#8e5329" opacity="0.6"/>
<circle cx="233.61" cy="187.12" r="0.85" fill="#8e5329" opacity="0.6"/>
<circle cx="232.84" cy="196.66" r="0.85" fill="#8e5329" opacity="0.6"/>
<circle cx="234.29" cy="217.94" r="0.85" fill="#8e5329" opacity="0.6"/>
<circle cx="235.30" cy="201.55" r="0.85" fill="#8e5329" opacity="0.6"/>
<circle cx="234.47" cy="209.02" r="0.85" fill="#8e5329" opacity="0.6"/>
<circle cx="231.98" cy="184.96" r="0.85" fill="#8e5329" opacity="0.6"/>
<circle cx="233.41" cy="196.03" r="0.85" fill="#8e5329" opacity="0.6"/>
<circle cx="235.08" cy="185.29" r="0.85" fill="#8e5329" opacity="0.6"/>
<circle cx="233.18" cy="182.84" r="0.85" fill="#8e5329" opacity="0.6"/>
<circle cx="233.66" cy="182.60" r="0.85" fill="#8e5329" opacity="0.6"/>
<circle cx="235.30" cy="183.47" r="0.85" fill="#8e5329" opacity="0.6"/>
<circle cx="233.89" cy="208.36" r="0.85" fill="#8e5329" opacity="0.6"/>
<circle cx="234.92" cy="214.37" r="0.85" fill="#8e5329" opacity="0.6"/>
<circle cx="233.10" cy="206.91" r="0.85" fill="#8e5329" opacity="0.6"/>
<circle cx="233.19" cy="205.71" r="0.85" fill="#8e5329" opacity="0.6"/>
<circle cx="233.03" cy="182.00" r="0.85" fill="#8e5329" opacity="0.6"/>
<circle cx="233.26" cy="217.33" r="0.85" fill="#8e5329" opacity="0.6"/>
<circle cx="232.21" cy="193.68" r="0.85" fill="#8e5329" opacity="0.6"/>
<circle cx="235.36" cy="200.81" r="0.85" fill="#8e5329" opacity="0.6"/>
<circle cx="236.14" cy="189.96" r="0.85" fill="#8e5329" opacity="0.6"/>
<circle cx="233.76" cy="201.30" r="0.85" fill="#8e5329" opacity="0.6"/>
<circle cx="233.41" cy="218.19" r="0.85" fill="#8e5329" opacity="0.6"/>
<circle cx="233.99" cy="185.54" r="0.85" fill="#8e5329" opacity="0.6"/>
<circle cx="233.39" cy="218.39" r="0.85" fill="#8e5329" opacity="0.6"/>
<circle cx="234.68" cy="211.63" r="0.85" fill="#8e5329" opacity="0.6"/>
<circle cx="234.85" cy="214.17" r="0.85" fill="#8e5329" opacity="0.6"/>
<circle cx="234.92" cy="194.55" r="0.85" fill="#8e5329" opacity="0.6"/>
<circle cx="233.20" cy="200.67" r="0.85" fill="#8e5329" opacity="0.6"/>
<circle cx="235.95" cy="186.13" r="0.85" fill="#8e5329" opacity="0.6"/>
<circle cx="235.40" cy="188.98" r="0.85" fill="#8e5329" opacity="0.6"/>
<circle cx="235.67" cy="193.33" r="0.85" fill="#8e5329" opacity="0.6"/>
<circle cx="235.84" cy="182.97" r="0.85" fill="#8e5329" opacity="0.6"/>
<circle cx="232.25" cy="182.76" r="0.85" fill="#8e5329" opacity="0.6"/>
<circle cx="236.16" cy="185.17" r="0.85" fill="#8e5329" opacity="0.6"/>
<circle cx="232.72" cy="194.05" r="0.85" fill="#8e5329" opacity="0.6"/>
<circle cx="234.90" cy="195.27" r="0.85" fill="#8e5329" opacity="0.6"/>
<circle cx="231.86" cy="184.08" r="0.85" fill="#8e5329" opacity="0.6"/>
<circle cx="235.65" cy="184.27" r="0.85" fill="#8e5329" opacity="0.6"/>
<circle cx="234.22" cy="189.61" r="0.85" fill="#8e5329" opacity="0.6"/>
<circle cx="234.79" cy="185.95" r="0.85" fill="#8e5329" opacity="0.6"/>
<circle cx="234.12" cy="189.97" r="0.85" fill="#8e5329" opacity="0.6"/>
<circle cx="234.23" cy="218.59" r="0.85" fill="#8e5329" opacity="0.6"/>
<circle cx="234.00" cy="181.60" r="0.95" fill="#2a2a35"/>
<rect x="231.6" y="220.2" width="4.8" height="1.8" fill="#3a3030"/>
<path d="M251.40,221.90 C251.65,221.77 252.57,221.90 252.90,221.10 C253.23,220.30 253.18,218.77 253.40,217.10 C253.62,215.43 253.87,213.43 254.20,211.10 C254.53,208.77 254.93,205.77 255.40,203.10 C255.87,200.43 256.50,197.60 257.00,195.10 C257.50,192.60 258.12,190.10 258.40,188.10 C258.68,186.10 258.95,184.43 258.70,183.10 C258.45,181.77 258.12,180.82 256.90,180.10 C255.68,179.38 252.32,179.02 251.40,178.80 L251.40,178.80 C250.48,179.02 247.12,179.38 245.90,180.10 C244.68,180.82 244.35,181.77 244.10,183.10 C243.85,184.43 244.12,186.10 244.40,188.10 C244.68,190.10 245.30,192.60 245.80,195.10 C246.30,197.60 246.93,200.43 247.40,203.10 C247.87,205.77 248.27,208.77 248.60,211.10 C248.93,213.43 249.18,215.43 249.40,217.10 C249.62,218.77 249.57,220.30 249.90,221.10 C250.23,221.90 251.15,221.77 251.40,221.90Z" fill="#F6B767" stroke="#EDA855" stroke-width="0.25"/>
<circle cx="252.41" cy="194.50" r="0.85" fill="#8e5329" opacity="0.6"/>
<circle cx="253.02" cy="181.62" r="0.85" fill="#8e5329" opacity="0.6"/>
<circle cx="252.94" cy="181.58" r="0.85" fill="#8e5329" opacity="0.6"/>
<circle cx="250.49" cy="196.47" r="0.85" fill="#8e5329" opacity="0.6"/>
<circle cx="252.63" cy="188.74" r="0.85" fill="#8e5329" opacity="0.6"/>
<circle cx="251.92" cy="214.49" r="0.85" fill="#8e5329" opacity="0.6"/>
<circle cx="252.21" cy="211.16" r="0.85" fill="#8e5329" opacity="0.6"/>
<circle cx="253.40" cy="184.44" r="0.85" fill="#8e5329" opacity="0.6"/>
<circle cx="250.51" cy="197.87" r="0.85" fill="#8e5329" opacity="0.6"/>
<circle cx="253.20" cy="181.68" r="0.85" fill="#8e5329" opacity="0.6"/>
<circle cx="250.79" cy="183.58" r="0.85" fill="#8e5329" opacity="0.6"/>
<circle cx="250.73" cy="212.91" r="0.85" fill="#8e5329" opacity="0.6"/>
<circle cx="252.08" cy="205.98" r="0.85" fill="#8e5329" opacity="0.6"/>
<circle cx="251.35" cy="200.23" r="0.85" fill="#8e5329" opacity="0.6"/>
<circle cx="253.22" cy="191.20" r="0.85" fill="#8e5329" opacity="0.6"/>
<circle cx="252.63" cy="185.55" r="0.85" fill="#8e5329" opacity="0.6"/>
<circle cx="251.07" cy="219.23" r="0.85" fill="#8e5329" opacity="0.6"/>
<circle cx="252.34" cy="181.11" r="0.85" fill="#8e5329" opacity="0.6"/>
<circle cx="251.45" cy="205.72" r="0.85" fill="#8e5329" opacity="0.6"/>
<circle cx="252.44" cy="188.34" r="0.85" fill="#8e5329" opacity="0.6"/>
<circle cx="249.44" cy="187.47" r="0.85" fill="#8e5329" opacity="0.6"/>
<circle cx="250.80" cy="181.48" r="0.85" fill="#8e5329" opacity="0.6"/>
<circle cx="250.84" cy="197.63" r="0.85" fill="#8e5329" opacity="0.6"/>
<circle cx="250.85" cy="212.45" r="0.85" fill="#8e5329" opacity="0.6"/>
<circle cx="252.14" cy="213.09" r="0.85" fill="#8e5329" opacity="0.6"/>
<circle cx="250.61" cy="198.10" r="0.85" fill="#8e5329" opacity="0.6"/>
<circle cx="250.23" cy="201.24" r="0.85" fill="#8e5329" opacity="0.6"/>
<circle cx="251.37" cy="182.68" r="0.85" fill="#8e5329" opacity="0.6"/>
<circle cx="252.39" cy="185.81" r="0.85" fill="#8e5329" opacity="0.6"/>
<circle cx="252.48" cy="181.32" r="0.85" fill="#8e5329" opacity="0.6"/>
<circle cx="251.36" cy="180.27" r="0.85" fill="#8e5329" opacity="0.6"/>
<circle cx="250.57" cy="190.20" r="0.85" fill="#8e5329" opacity="0.6"/>
<circle cx="251.11" cy="203.33" r="0.85" fill="#8e5329" opacity="0.6"/>
<circle cx="250.84" cy="194.33" r="0.85" fill="#8e5329" opacity="0.6"/>
<circle cx="251.76" cy="216.01" r="0.85" fill="#8e5329" opacity="0.6"/>
<circle cx="252.64" cy="184.64" r="0.85" fill="#8e5329" opacity="0.6"/>
<circle cx="252.08" cy="188.37" r="0.85" fill="#8e5329" opacity="0.6"/>
<circle cx="252.24" cy="188.99" r="0.85" fill="#8e5329" opacity="0.6"/>
<circle cx="250.55" cy="188.58" r="0.85" fill="#8e5329" opacity="0.6"/>
<circle cx="251.71" cy="181.49" r="0.85" fill="#8e5329" opacity="0.6"/>
<circle cx="250.86" cy="193.51" r="0.85" fill="#8e5329" opacity="0.6"/>
<circle cx="252.56" cy="193.64" r="0.85" fill="#8e5329" opacity="0.6"/>
<circle cx="253.46" cy="184.54" r="0.85" fill="#8e5329" opacity="0.6"/>
<circle cx="251.51" cy="181.05" r="0.85" fill="#8e5329" opacity="0.6"/>
<circle cx="252.15" cy="181.82" r="0.85" fill="#8e5329" opacity="0.6"/>
<circle cx="250.12" cy="190.60" r="0.85" fill="#8e5329" opacity="0.6"/>
<circle cx="252.09" cy="188.15" r="0.85" fill="#8e5329" opacity="0.6"/>
<circle cx="252.32" cy="188.38" r="0.85" fill="#8e5329" opacity="0.6"/>
<circle cx="251.34" cy="218.49" r="0.85" fill="#8e5329" opacity="0.6"/>
<circle cx="252.06" cy="193.40" r="0.85" fill="#8e5329" opacity="0.6"/>
<circle cx="251.30" cy="194.18" r="0.85" fill="#8e5329" opacity="0.6"/>
<circle cx="250.76" cy="210.48" r="0.85" fill="#8e5329" opacity="0.6"/>
<circle cx="250.77" cy="206.81" r="0.85" fill="#8e5329" opacity="0.6"/>
<circle cx="252.72" cy="195.82" r="0.85" fill="#8e5329" opacity="0.6"/>
<circle cx="250.66" cy="208.38" r="0.85" fill="#8e5329" opacity="0.6"/>
<circle cx="249.42" cy="186.10" r="0.85" fill="#8e5329" opacity="0.6"/>
<circle cx="251.55" cy="194.87" r="0.85" fill="#8e5329" opacity="0.6"/>
<circle cx="251.11" cy="180.98" r="0.85" fill="#8e5329" opacity="0.6"/>
<circle cx="250.85" cy="186.84" r="0.85" fill="#8e5329" opacity="0.6"/>
<circle cx="250.88" cy="180.59" r="0.85" fill="#8e5329" opacity="0.6"/>
<circle cx="249.69" cy="183.59" r="0.85" fill="#8e5329" opacity="0.6"/>
<circle cx="250.27" cy="196.80" r="0.85" fill="#8e5329" opacity="0.6"/>
<circle cx="250.78" cy="204.45" r="0.85" fill="#8e5329" opacity="0.6"/>
<circle cx="250.38" cy="182.78" r="0.85" fill="#8e5329" opacity="0.6"/>
<circle cx="251.40" cy="179.10" r="0.95" fill="#2a2a35"/>
<rect x="249.0" y="220.2" width="4.8" height="1.8" fill="#3a3030"/>
<text x="181.8" y="160.49999999999997" font-size="6.8" text-anchor="middle" fill="#D8365A" font-weight="normal" textLength="11.0" lengthAdjust="spacingAndGlyphs" stroke="#D8365A" stroke-width="0.08">****</text>
<text x="199.20000000000002" y="159.2" font-size="6.6" text-anchor="middle" fill="#333" font-weight="normal" textLength="5.4" lengthAdjust="spacingAndGlyphs" stroke="#333" stroke-width="0.12">ns</text>
<text x="216.60000000000002" y="159.2" font-size="6.6" text-anchor="middle" fill="#333" font-weight="normal" textLength="5.4" lengthAdjust="spacingAndGlyphs" stroke="#333" stroke-width="0.12">ns</text>
<text x="234.0" y="159.2" font-size="6.6" text-anchor="middle" fill="#333" font-weight="normal" textLength="5.4" lengthAdjust="spacingAndGlyphs" stroke="#333" stroke-width="0.12">ns</text>
<path d="M181.8,174.60000000000002 V172.8 H199.20000000000002 V174.60000000000002" fill="none" stroke="#333" stroke-width="1"/>
<text x="190.5" y="170.5" font-size="6.9" text-anchor="middle" fill="#D8365A" font-weight="normal" textLength="21.349999999999998" lengthAdjust="spacingAndGlyphs" stroke="#D8365A" stroke-width="0.1">9.5e-08</text>
<path d="M216.60000000000002,169.10000000000002 V167.3 H234.0 V169.10000000000002" fill="none" stroke="#333" stroke-width="1"/>
<text x="225.3" y="165.0" font-size="6.9" text-anchor="middle" fill="#D8365A" font-weight="normal" textLength="15.25" lengthAdjust="spacingAndGlyphs" stroke="#D8365A" stroke-width="0.1">0.028</text>
<text x="325.5" y="149.70000000000002" font-size="8.3" text-anchor="middle" fill="#222" font-weight="normal" textLength="24.6" lengthAdjust="spacingAndGlyphs" stroke="#222" stroke-width="0.08">HLA-C</text>
<line x1="280.6" y1="157.6" x2="280.6" y2="231.4" stroke="#1e1e1e" stroke-width="1.25"/>
<line x1="277.70000000000005" y1="221.0" x2="280.6" y2="221.0" stroke="#1e1e1e" stroke-width="1"/>
<text x="273.0" y="223.0" font-size="5.6" text-anchor="middle" fill="#3a3a3a" font-weight="normal" stroke="#3a3a3a" stroke-width="0.1">0</text>
<line x1="277.70000000000005" y1="201.0" x2="280.6" y2="201.0" stroke="#1e1e1e" stroke-width="1"/>
<text x="273.0" y="203.0" font-size="5.6" text-anchor="middle" fill="#3a3a3a" font-weight="normal" stroke="#3a3a3a" stroke-width="0.1">2</text>
<line x1="277.70000000000005" y1="181.0" x2="280.6" y2="181.0" stroke="#1e1e1e" stroke-width="1"/>
<text x="273.0" y="183.0" font-size="5.6" text-anchor="middle" fill="#3a3a3a" font-weight="normal" stroke="#3a3a3a" stroke-width="0.1">4</text>
<line x1="277.70000000000005" y1="161.0" x2="280.6" y2="161.0" stroke="#1e1e1e" stroke-width="1"/>
<text x="273.0" y="163.0" font-size="5.6" text-anchor="middle" fill="#3a3a3a" font-weight="normal" stroke="#3a3a3a" stroke-width="0.1">6</text>
<line x1="279.90000000000003" y1="230.75" x2="370.8" y2="230.75" stroke="#1e1e1e" stroke-width="1.5"/>
<line x1="290.90000000000003" y1="230.75" x2="290.90000000000003" y2="233.8" stroke="#1e1e1e" stroke-width="1.1"/>
<line x1="308.3" y1="230.75" x2="308.3" y2="233.8" stroke="#1e1e1e" stroke-width="1.1"/>
<line x1="325.70000000000005" y1="230.75" x2="325.70000000000005" y2="233.8" stroke="#1e1e1e" stroke-width="1.1"/>
<line x1="343.1" y1="230.75" x2="343.1" y2="233.8" stroke="#1e1e1e" stroke-width="1.1"/>
<line x1="360.5" y1="230.75" x2="360.5" y2="233.8" stroke="#1e1e1e" stroke-width="1.1"/>
<path d="M290.90,221.80 C291.98,221.67 296.23,221.38 297.40,221.00 C298.57,220.62 298.35,220.50 297.90,219.50 C297.45,218.50 295.65,216.42 294.70,215.00 C293.75,213.58 292.75,212.08 292.20,211.00 C291.65,209.92 291.60,209.50 291.40,208.50 C291.20,207.50 291.09,209.25 291.02,205.00 C290.95,200.75 291.02,186.75 291.00,183.00 C290.98,179.25 290.92,182.58 290.90,182.50 L290.90,182.50 C290.88,182.58 290.82,179.25 290.80,183.00 C290.78,186.75 290.85,200.75 290.78,205.00 C290.71,209.25 290.60,207.50 290.40,208.50 C290.20,209.50 290.15,209.92 289.60,211.00 C289.05,212.08 288.05,213.58 287.10,215.00 C286.15,216.42 284.35,218.50 283.90,219.50 C283.45,220.50 283.23,220.62 284.40,221.00 C285.57,221.38 289.82,221.67 290.90,221.80Z" fill="#F6B767" stroke="#EDA855" stroke-width="0.25"/>
<circle cx="290.78" cy="219.48" r="0.85" fill="#8e5329" opacity="0.6"/>
<circle cx="291.27" cy="216.08" r="0.85" fill="#8e5329" opacity="0.6"/>
<circle cx="291.28" cy="218.46" r="0.85" fill="#8e5329" opacity="0.6"/>
<circle cx="291.66" cy="214.46" r="0.85" fill="#8e5329" opacity="0.6"/>
<circle cx="288.97" cy="219.04" r="0.85" fill="#8e5329" opacity="0.6"/>
<circle cx="291.73" cy="217.54" r="0.85" fill="#8e5329" opacity="0.6"/>
<circle cx="290.29" cy="213.22" r="0.85" fill="#8e5329" opacity="0.6"/>
<circle cx="290.51" cy="214.31" r="0.85" fill="#8e5329" opacity="0.6"/>
<circle cx="289.08" cy="219.27" r="0.85" fill="#8e5329" opacity="0.6"/>
<circle cx="290.90" cy="183.00" r="0.95" fill="#2a2a35"/>
<circle cx="292.40" cy="200.00" r="0.95" fill="#2a2a35"/>
<circle cx="289.50" cy="205.50" r="0.95" fill="#2a2a35"/>
<circle cx="291.90" cy="212.00" r="0.95" fill="#2a2a35"/>
<rect x="288.50000000000006" y="220.1" width="4.8" height="1.8" fill="#3a3030"/>
<path d="M308.30,221.80 C309.22,221.67 313.22,221.80 313.80,221.00 C314.38,220.20 312.30,219.00 311.80,217.00 C311.30,215.00 310.75,211.33 310.80,209.00 C310.85,206.67 311.48,205.17 312.10,203.00 C312.72,200.83 313.93,198.33 314.50,196.00 C315.07,193.67 315.53,191.00 315.50,189.00 C315.47,187.00 315.00,185.33 314.30,184.00 C313.60,182.67 312.30,181.60 311.30,181.00 C310.30,180.40 308.80,180.50 308.30,180.40 L308.30,180.40 C307.80,180.50 306.30,180.40 305.30,181.00 C304.30,181.60 303.00,182.67 302.30,184.00 C301.60,185.33 301.13,187.00 301.10,189.00 C301.07,191.00 301.53,193.67 302.10,196.00 C302.67,198.33 303.88,200.83 304.50,203.00 C305.12,205.17 305.75,206.67 305.80,209.00 C305.85,211.33 305.30,215.00 304.80,217.00 C304.30,219.00 302.22,220.20 302.80,221.00 C303.38,221.80 307.38,221.67 308.30,221.80Z" fill="#F6B767" stroke="#EDA855" stroke-width="0.25"/>
<circle cx="308.57" cy="207.00" r="0.85" fill="#8e5329" opacity="0.6"/>
<circle cx="308.31" cy="205.38" r="0.85" fill="#8e5329" opacity="0.6"/>
<circle cx="307.26" cy="218.05" r="0.85" fill="#8e5329" opacity="0.6"/>
<circle cx="308.96" cy="216.00" r="0.85" fill="#8e5329" opacity="0.6"/>
<circle cx="308.55" cy="214.72" r="0.85" fill="#8e5329" opacity="0.6"/>
<circle cx="308.00" cy="182.92" r="0.85" fill="#8e5329" opacity="0.6"/>
<circle cx="309.12" cy="181.82" r="0.85" fill="#8e5329" opacity="0.6"/>
<circle cx="307.69" cy="208.32" r="0.85" fill="#8e5329" opacity="0.6"/>
<circle cx="308.48" cy="194.84" r="0.85" fill="#8e5329" opacity="0.6"/>
<circle cx="307.68" cy="217.08" r="0.85" fill="#8e5329" opacity="0.6"/>
<circle cx="307.56" cy="193.24" r="0.85" fill="#8e5329" opacity="0.6"/>
<circle cx="307.59" cy="196.90" r="0.85" fill="#8e5329" opacity="0.6"/>
<circle cx="307.20" cy="188.84" r="0.85" fill="#8e5329" opacity="0.6"/>
<circle cx="309.59" cy="197.33" r="0.85" fill="#8e5329" opacity="0.6"/>
<circle cx="310.28" cy="191.34" r="0.85" fill="#8e5329" opacity="0.6"/>
<circle cx="308.80" cy="214.94" r="0.85" fill="#8e5329" opacity="0.6"/>
<circle cx="309.89" cy="189.99" r="0.85" fill="#8e5329" opacity="0.6"/>
<circle cx="308.14" cy="196.56" r="0.85" fill="#8e5329" opacity="0.6"/>
<circle cx="307.83" cy="187.77" r="0.85" fill="#8e5329" opacity="0.6"/>
<circle cx="308.15" cy="193.69" r="0.85" fill="#8e5329" opacity="0.6"/>
<circle cx="307.51" cy="213.01" r="0.85" fill="#8e5329" opacity="0.6"/>
<circle cx="307.23" cy="189.85" r="0.85" fill="#8e5329" opacity="0.6"/>
<circle cx="308.40" cy="216.39" r="0.85" fill="#8e5329" opacity="0.6"/>
<circle cx="309.68" cy="185.40" r="0.85" fill="#8e5329" opacity="0.6"/>
<circle cx="307.42" cy="182.53" r="0.85" fill="#8e5329" opacity="0.6"/>
<circle cx="308.28" cy="210.55" r="0.85" fill="#8e5329" opacity="0.6"/>
<circle cx="306.53" cy="196.76" r="0.85" fill="#8e5329" opacity="0.6"/>
<circle cx="308.45" cy="203.33" r="0.85" fill="#8e5329" opacity="0.6"/>
<circle cx="308.82" cy="199.60" r="0.85" fill="#8e5329" opacity="0.6"/>
<circle cx="309.58" cy="189.39" r="0.85" fill="#8e5329" opacity="0.6"/>
<circle cx="307.47" cy="204.35" r="0.85" fill="#8e5329" opacity="0.6"/>
<circle cx="306.65" cy="195.02" r="0.85" fill="#8e5329" opacity="0.6"/>
<circle cx="308.03" cy="211.44" r="0.85" fill="#8e5329" opacity="0.6"/>
<circle cx="307.52" cy="217.47" r="0.85" fill="#8e5329" opacity="0.6"/>
<circle cx="307.35" cy="215.58" r="0.85" fill="#8e5329" opacity="0.6"/>
<circle cx="306.95" cy="185.75" r="0.85" fill="#8e5329" opacity="0.6"/>
<circle cx="308.09" cy="209.76" r="0.85" fill="#8e5329" opacity="0.6"/>
<circle cx="307.21" cy="200.82" r="0.85" fill="#8e5329" opacity="0.6"/>
<circle cx="308.91" cy="206.27" r="0.85" fill="#8e5329" opacity="0.6"/>
<circle cx="309.12" cy="213.27" r="0.85" fill="#8e5329" opacity="0.6"/>
<circle cx="308.43" cy="199.11" r="0.85" fill="#8e5329" opacity="0.6"/>
<circle cx="308.80" cy="180.50" r="0.95" fill="#2a2a35"/>
<rect x="305.90000000000003" y="220.1" width="4.8" height="1.8" fill="#3a3030"/>
<path d="M325.70,221.80 C326.87,221.67 331.87,221.63 332.70,221.00 C333.53,220.37 331.43,219.33 330.70,218.00 C329.97,216.67 328.73,214.33 328.30,213.00 C327.87,211.67 327.90,211.33 328.10,210.00 C328.30,208.67 328.87,207.17 329.50,205.00 C330.13,202.83 331.40,199.33 331.90,197.00 C332.40,194.67 332.70,193.17 332.50,191.00 C332.30,188.83 331.42,186.17 330.70,184.00 C329.98,181.83 328.90,179.50 328.20,178.00 C327.50,176.50 326.92,175.58 326.50,175.00 C326.08,174.42 325.83,174.58 325.70,174.50 L325.70,174.50 C325.57,174.58 325.32,174.42 324.90,175.00 C324.48,175.58 323.90,176.50 323.20,178.00 C322.50,179.50 321.42,181.83 320.70,184.00 C319.98,186.17 319.10,188.83 318.90,191.00 C318.70,193.17 319.00,194.67 319.50,197.00 C320.00,199.33 321.27,202.83 321.90,205.00 C322.53,207.17 323.10,208.67 323.30,210.00 C323.50,211.33 323.53,211.67 323.10,213.00 C322.67,214.33 321.43,216.67 320.70,218.00 C319.97,219.33 317.87,220.37 318.70,221.00 C319.53,221.63 324.53,221.67 325.70,221.80Z" fill="#F6B767" stroke="#EDA855" stroke-width="0.25"/>
<circle cx="326.87" cy="215.71" r="0.85" fill="#8e5329" opacity="0.6"/>
<circle cx="325.68" cy="199.07" r="0.85" fill="#8e5329" opacity="0.6"/>
<circle cx="324.60" cy="215.51" r="0.85" fill="#8e5329" opacity="0.6"/>
<circle cx="326.44" cy="207.63" r="0.85" fill="#8e5329" opacity="0.6"/>
<circle cx="325.05" cy="202.63" r="0.85" fill="#8e5329" opacity="0.6"/>
<circle cx="325.77" cy="175.37" r="0.85" fill="#8e5329" opacity="0.6"/>
<circle cx="327.17" cy="197.36" r="0.85" fill="#8e5329" opacity="0.6"/>
<circle cx="323.99" cy="193.62" r="0.85" fill="#8e5329" opacity="0.6"/>
<circle cx="327.19" cy="193.74" r="0.85" fill="#8e5329" opacity="0.6"/>
<circle cx="326.45" cy="206.79" r="0.85" fill="#8e5329" opacity="0.6"/>
<circle cx="324.95" cy="181.96" r="0.85" fill="#8e5329" opacity="0.6"/>
<circle cx="327.20" cy="196.81" r="0.85" fill="#8e5329" opacity="0.6"/>
<circle cx="324.66" cy="196.92" r="0.85" fill="#8e5329" opacity="0.6"/>
<circle cx="325.44" cy="208.65" r="0.85" fill="#8e5329" opacity="0.6"/>
<circle cx="325.47" cy="207.63" r="0.85" fill="#8e5329" opacity="0.6"/>
<circle cx="325.93" cy="176.12" r="0.85" fill="#8e5329" opacity="0.6"/>
<circle cx="326.25" cy="206.15" r="0.85" fill="#8e5329" opacity="0.6"/>
<circle cx="325.54" cy="204.29" r="0.85" fill="#8e5329" opacity="0.6"/>
<circle cx="325.99" cy="199.65" r="0.85" fill="#8e5329" opacity="0.6"/>
<circle cx="324.87" cy="206.65" r="0.85" fill="#8e5329" opacity="0.6"/>
<circle cx="327.48" cy="197.03" r="0.85" fill="#8e5329" opacity="0.6"/>
<circle cx="324.76" cy="216.70" r="0.85" fill="#8e5329" opacity="0.6"/>
<circle cx="326.37" cy="202.31" r="0.85" fill="#8e5329" opacity="0.6"/>
<circle cx="324.67" cy="219.37" r="0.85" fill="#8e5329" opacity="0.6"/>
<circle cx="326.69" cy="180.55" r="0.85" fill="#8e5329" opacity="0.6"/>
<circle cx="327.54" cy="193.69" r="0.85" fill="#8e5329" opacity="0.6"/>
<circle cx="326.04" cy="199.85" r="0.85" fill="#8e5329" opacity="0.6"/>
<circle cx="324.44" cy="197.37" r="0.85" fill="#8e5329" opacity="0.6"/>
<circle cx="325.50" cy="199.36" r="0.85" fill="#8e5329" opacity="0.6"/>
<circle cx="325.60" cy="187.21" r="0.85" fill="#8e5329" opacity="0.6"/>
<circle cx="324.92" cy="201.98" r="0.85" fill="#8e5329" opacity="0.6"/>
<circle cx="323.97" cy="187.98" r="0.85" fill="#8e5329" opacity="0.6"/>
<circle cx="324.65" cy="203.30" r="0.85" fill="#8e5329" opacity="0.6"/>
<circle cx="324.59" cy="197.14" r="0.85" fill="#8e5329" opacity="0.6"/>
<circle cx="324.04" cy="186.39" r="0.85" fill="#8e5329" opacity="0.6"/>
<circle cx="326.67" cy="192.21" r="0.85" fill="#8e5329" opacity="0.6"/>
<circle cx="325.77" cy="209.55" r="0.85" fill="#8e5329" opacity="0.6"/>
<circle cx="327.41" cy="196.53" r="0.85" fill="#8e5329" opacity="0.6"/>
<circle cx="326.77" cy="184.64" r="0.85" fill="#8e5329" opacity="0.6"/>
<circle cx="325.95" cy="205.62" r="0.85" fill="#8e5329" opacity="0.6"/>
<circle cx="325.32" cy="182.97" r="0.85" fill="#8e5329" opacity="0.6"/>
<circle cx="325.79" cy="200.48" r="0.85" fill="#8e5329" opacity="0.6"/>
<circle cx="324.60" cy="182.20" r="0.85" fill="#8e5329" opacity="0.6"/>
<circle cx="325.42" cy="186.88" r="0.85" fill="#8e5329" opacity="0.6"/>
<circle cx="326.28" cy="207.31" r="0.85" fill="#8e5329" opacity="0.6"/>
<circle cx="327.14" cy="197.06" r="0.85" fill="#8e5329" opacity="0.6"/>
<circle cx="327.08" cy="201.17" r="0.85" fill="#8e5329" opacity="0.6"/>
<circle cx="325.18" cy="192.95" r="0.85" fill="#8e5329" opacity="0.6"/>
<circle cx="326.48" cy="202.24" r="0.85" fill="#8e5329" opacity="0.6"/>
<circle cx="325.56" cy="189.02" r="0.85" fill="#8e5329" opacity="0.6"/>
<circle cx="325.87" cy="178.32" r="0.85" fill="#8e5329" opacity="0.6"/>
<circle cx="326.64" cy="205.26" r="0.85" fill="#8e5329" opacity="0.6"/>
<circle cx="324.89" cy="192.81" r="0.85" fill="#8e5329" opacity="0.6"/>
<circle cx="325.75" cy="203.59" r="0.85" fill="#8e5329" opacity="0.6"/>
<circle cx="325.10" cy="204.01" r="0.85" fill="#8e5329" opacity="0.6"/>
<circle cx="326.49" cy="202.18" r="0.85" fill="#8e5329" opacity="0.6"/>
<circle cx="325.25" cy="215.06" r="0.85" fill="#8e5329" opacity="0.6"/>
<circle cx="325.81" cy="214.65" r="0.85" fill="#8e5329" opacity="0.6"/>
<circle cx="327.18" cy="194.60" r="0.85" fill="#8e5329" opacity="0.6"/>
<circle cx="325.92" cy="186.74" r="0.85" fill="#8e5329" opacity="0.6"/>
<circle cx="325.44" cy="178.06" r="0.85" fill="#8e5329" opacity="0.6"/>
<circle cx="326.47" cy="201.35" r="0.85" fill="#8e5329" opacity="0.6"/>
<circle cx="325.37" cy="193.44" r="0.85" fill="#8e5329" opacity="0.6"/>
<circle cx="326.94" cy="197.71" r="0.85" fill="#8e5329" opacity="0.6"/>
<circle cx="326.38" cy="196.00" r="0.85" fill="#8e5329" opacity="0.6"/>
<circle cx="326.88" cy="198.32" r="0.85" fill="#8e5329" opacity="0.6"/>
<circle cx="325.75" cy="206.63" r="0.85" fill="#8e5329" opacity="0.6"/>
<circle cx="325.27" cy="190.69" r="0.85" fill="#8e5329" opacity="0.6"/>
<circle cx="327.03" cy="217.94" r="0.85" fill="#8e5329" opacity="0.6"/>
<circle cx="326.46" cy="191.85" r="0.85" fill="#8e5329" opacity="0.6"/>
<circle cx="325.89" cy="215.95" r="0.85" fill="#8e5329" opacity="0.6"/>
<circle cx="327.13" cy="200.56" r="0.85" fill="#8e5329" opacity="0.6"/>
<circle cx="326.16" cy="217.74" r="0.85" fill="#8e5329" opacity="0.6"/>
<circle cx="324.78" cy="198.29" r="0.85" fill="#8e5329" opacity="0.6"/>
<circle cx="325.37" cy="203.25" r="0.85" fill="#8e5329" opacity="0.6"/>
<circle cx="326.07" cy="183.54" r="0.85" fill="#8e5329" opacity="0.6"/>
<circle cx="325.90" cy="175.00" r="0.95" fill="#2a2a35"/>
<rect x="323.30000000000007" y="220.1" width="4.8" height="1.8" fill="#3a3030"/>
<path d="M343.10,221.80 C344.27,221.67 349.27,221.97 350.10,221.00 C350.93,220.03 348.60,218.17 348.10,216.00 C347.60,213.83 346.93,210.50 347.10,208.00 C347.27,205.50 348.63,203.17 349.10,201.00 C349.57,198.83 349.73,196.83 349.90,195.00 C350.07,193.17 350.23,191.42 350.10,190.00 C349.97,188.58 349.85,187.50 349.10,186.50 C348.35,185.50 346.60,184.50 345.60,184.00 C344.60,183.50 343.52,183.58 343.10,183.50 L343.10,183.50 C342.68,183.58 341.60,183.50 340.60,184.00 C339.60,184.50 337.85,185.50 337.10,186.50 C336.35,187.50 336.23,188.58 336.10,190.00 C335.97,191.42 336.13,193.17 336.30,195.00 C336.47,196.83 336.63,198.83 337.10,201.00 C337.57,203.17 338.93,205.50 339.10,208.00 C339.27,210.50 338.60,213.83 338.10,216.00 C337.60,218.17 335.27,220.03 336.10,221.00 C336.93,221.97 341.93,221.67 343.10,221.80Z" fill="#F6B767" stroke="#EDA855" stroke-width="0.25"/>
<circle cx="341.93" cy="203.06" r="0.85" fill="#8e5329" opacity="0.6"/>
<circle cx="343.11" cy="188.74" r="0.85" fill="#8e5329" opacity="0.6"/>
<circle cx="343.31" cy="187.61" r="0.85" fill="#8e5329" opacity="0.6"/>
<circle cx="342.63" cy="197.61" r="0.85" fill="#8e5329" opacity="0.6"/>
<circle cx="344.02" cy="194.53" r="0.85" fill="#8e5329" opacity="0.6"/>
<circle cx="341.99" cy="213.92" r="0.85" fill="#8e5329" opacity="0.6"/>
<circle cx="342.66" cy="198.54" r="0.85" fill="#8e5329" opacity="0.6"/>
<circle cx="342.24" cy="193.01" r="0.85" fill="#8e5329" opacity="0.6"/>
<circle cx="342.78" cy="195.56" r="0.85" fill="#8e5329" opacity="0.6"/>
<circle cx="342.20" cy="216.39" r="0.85" fill="#8e5329" opacity="0.6"/>
<circle cx="342.63" cy="188.28" r="0.85" fill="#8e5329" opacity="0.6"/>
<circle cx="342.84" cy="202.04" r="0.85" fill="#8e5329" opacity="0.6"/>
<circle cx="343.46" cy="187.32" r="0.85" fill="#8e5329" opacity="0.6"/>
<circle cx="344.26" cy="215.20" r="0.85" fill="#8e5329" opacity="0.6"/>
<circle cx="341.97" cy="212.29" r="0.85" fill="#8e5329" opacity="0.6"/>
<circle cx="341.58" cy="200.34" r="0.85" fill="#8e5329" opacity="0.6"/>
<circle cx="343.51" cy="204.59" r="0.85" fill="#8e5329" opacity="0.6"/>
<circle cx="342.10" cy="216.18" r="0.85" fill="#8e5329" opacity="0.6"/>
<circle cx="343.46" cy="217.58" r="0.85" fill="#8e5329" opacity="0.6"/>
<circle cx="344.52" cy="214.20" r="0.85" fill="#8e5329" opacity="0.6"/>
<circle cx="343.42" cy="184.07" r="0.85" fill="#8e5329" opacity="0.6"/>
<circle cx="343.43" cy="185.74" r="0.85" fill="#8e5329" opacity="0.6"/>
<circle cx="343.70" cy="217.97" r="0.85" fill="#8e5329" opacity="0.6"/>
<circle cx="341.53" cy="198.55" r="0.85" fill="#8e5329" opacity="0.6"/>
<circle cx="342.73" cy="198.76" r="0.85" fill="#8e5329" opacity="0.6"/>
<circle cx="342.47" cy="218.85" r="0.85" fill="#8e5329" opacity="0.6"/>
<circle cx="342.93" cy="204.11" r="0.85" fill="#8e5329" opacity="0.6"/>
<circle cx="343.41" cy="207.97" r="0.85" fill="#8e5329" opacity="0.6"/>
<circle cx="344.21" cy="218.60" r="0.85" fill="#8e5329" opacity="0.6"/>
<circle cx="342.23" cy="201.84" r="0.85" fill="#8e5329" opacity="0.6"/>
<circle cx="341.99" cy="193.31" r="0.85" fill="#8e5329" opacity="0.6"/>
<circle cx="342.77" cy="185.28" r="0.85" fill="#8e5329" opacity="0.6"/>
<circle cx="343.77" cy="188.97" r="0.85" fill="#8e5329" opacity="0.6"/>
<circle cx="344.32" cy="210.31" r="0.85" fill="#8e5329" opacity="0.6"/>
<circle cx="343.10" cy="184.00" r="0.95" fill="#2a2a35"/>
<rect x="340.70000000000005" y="220.1" width="4.8" height="1.8" fill="#3a3030"/>
<path d="M360.50,212.00 C360.63,211.67 360.63,211.00 361.30,210.00 C361.97,209.00 363.50,207.83 364.50,206.00 C365.50,204.17 367.05,201.00 367.30,199.00 C367.55,197.00 366.60,195.50 366.00,194.00 C365.40,192.50 364.45,191.25 363.70,190.00 C362.95,188.75 362.03,187.17 361.50,186.50 C360.97,185.83 360.67,186.08 360.50,186.00 L360.50,186.00 C360.33,186.08 360.03,185.83 359.50,186.50 C358.97,187.17 358.05,188.75 357.30,190.00 C356.55,191.25 355.60,192.50 355.00,194.00 C354.40,195.50 353.45,197.00 353.70,199.00 C353.95,201.00 355.50,204.17 356.50,206.00 C357.50,207.83 359.03,209.00 359.70,210.00 C360.37,211.00 360.37,211.67 360.50,212.00Z" fill="#F6B767" stroke="#EDA855" stroke-width="0.25"/>
<circle cx="360.80" cy="197.43" r="0.85" fill="#8e5329" opacity="0.6"/>
<circle cx="361.84" cy="203.64" r="0.85" fill="#8e5329" opacity="0.6"/>
<circle cx="360.73" cy="186.59" r="0.85" fill="#8e5329" opacity="0.6"/>
<circle cx="359.70" cy="196.62" r="0.85" fill="#8e5329" opacity="0.6"/>
<circle cx="361.14" cy="194.79" r="0.85" fill="#8e5329" opacity="0.6"/>
<circle cx="361.43" cy="195.12" r="0.85" fill="#8e5329" opacity="0.6"/>
<circle cx="358.68" cy="196.36" r="0.85" fill="#8e5329" opacity="0.6"/>
<circle cx="361.62" cy="204.28" r="0.85" fill="#8e5329" opacity="0.6"/>
<circle cx="360.32" cy="203.98" r="0.85" fill="#8e5329" opacity="0.6"/>
<circle cx="359.20" cy="197.09" r="0.85" fill="#8e5329" opacity="0.6"/>
<circle cx="359.45" cy="206.28" r="0.85" fill="#8e5329" opacity="0.6"/>
<circle cx="361.13" cy="199.34" r="0.85" fill="#8e5329" opacity="0.6"/>
<circle cx="359.10" cy="198.40" r="0.85" fill="#8e5329" opacity="0.6"/>
<circle cx="360.89" cy="197.54" r="0.85" fill="#8e5329" opacity="0.6"/>
<circle cx="360.72" cy="209.54" r="0.85" fill="#8e5329" opacity="0.6"/>
<circle cx="359.71" cy="201.44" r="0.85" fill="#8e5329" opacity="0.6"/>
<circle cx="359.11" cy="196.26" r="0.85" fill="#8e5329" opacity="0.6"/>
<circle cx="361.06" cy="200.38" r="0.85" fill="#8e5329" opacity="0.6"/>
<circle cx="360.25" cy="199.76" r="0.85" fill="#8e5329" opacity="0.6"/>
<circle cx="359.91" cy="193.83" r="0.85" fill="#8e5329" opacity="0.6"/>
<circle cx="360.09" cy="200.57" r="0.85" fill="#8e5329" opacity="0.6"/>
<circle cx="361.50" cy="205.84" r="0.85" fill="#8e5329" opacity="0.6"/>
<circle cx="358.73" cy="198.74" r="0.85" fill="#8e5329" opacity="0.6"/>
<circle cx="360.11" cy="199.52" r="0.85" fill="#8e5329" opacity="0.6"/>
<circle cx="360.64" cy="201.28" r="0.85" fill="#8e5329" opacity="0.6"/>
<circle cx="360.27" cy="199.51" r="0.85" fill="#8e5329" opacity="0.6"/>
<circle cx="358.88" cy="198.35" r="0.85" fill="#8e5329" opacity="0.6"/>
<circle cx="360.50" cy="200.30" r="0.85" fill="#8e5329" opacity="0.6"/>
<circle cx="361.97" cy="200.60" r="0.85" fill="#8e5329" opacity="0.6"/>
<circle cx="361.00" cy="194.20" r="0.85" fill="#8e5329" opacity="0.6"/>
<circle cx="360.11" cy="188.81" r="0.85" fill="#8e5329" opacity="0.6"/>
<circle cx="361.02" cy="196.21" r="0.85" fill="#8e5329" opacity="0.6"/>
<circle cx="360.42" cy="196.99" r="0.85" fill="#8e5329" opacity="0.6"/>
<circle cx="361.29" cy="200.90" r="0.85" fill="#8e5329" opacity="0.6"/>
<circle cx="360.60" cy="185.50" r="0.95" fill="#2a2a35"/>
<circle cx="359.70" cy="211.00" r="0.95" fill="#2a2a35"/>
<circle cx="360.70" cy="216.00" r="0.95" fill="#2a2a35"/>
<rect x="358.1" y="220.1" width="4.8" height="1.8" fill="#3a3030"/>
<text x="290.90000000000003" y="160.4" font-size="6.8" text-anchor="middle" fill="#D8365A" font-weight="normal" textLength="11.0" lengthAdjust="spacingAndGlyphs" stroke="#D8365A" stroke-width="0.08">****</text>
<text x="308.3" y="159.10000000000002" font-size="6.6" text-anchor="middle" fill="#333" font-weight="normal" textLength="5.4" lengthAdjust="spacingAndGlyphs" stroke="#333" stroke-width="0.12">ns</text>
<text x="325.70000000000005" y="159.10000000000002" font-size="6.6" text-anchor="middle" fill="#333" font-weight="normal" textLength="5.4" lengthAdjust="spacingAndGlyphs" stroke="#333" stroke-width="0.12">ns</text>
<text x="343.1" y="159.10000000000002" font-size="6.6" text-anchor="middle" fill="#333" font-weight="normal" textLength="5.4" lengthAdjust="spacingAndGlyphs" stroke="#333" stroke-width="0.12">ns</text>
<path d="M290.90000000000003,174.3 V172.5 H308.3 V174.3" fill="none" stroke="#333" stroke-width="1"/>
<text x="299.6" y="170.2" font-size="6.9" text-anchor="middle" fill="#D8365A" font-weight="normal" textLength="21.349999999999998" lengthAdjust="spacingAndGlyphs" stroke="#D8365A" stroke-width="0.1">0.00012</text>
<path d="M325.70000000000005,169.0 V167.2 H343.1 V169.0" fill="none" stroke="#333" stroke-width="1"/>
<text x="334.40000000000003" y="164.89999999999998" font-size="6.9" text-anchor="middle" fill="#333" font-weight="normal" textLength="12.2" lengthAdjust="spacingAndGlyphs" stroke="#333" stroke-width="0.1">0.55</text>
<text x="217.7" y="248.3" font-size="8.3" text-anchor="middle" fill="#222" font-weight="normal" textLength="37.0" lengthAdjust="spacingAndGlyphs" stroke="#222" stroke-width="0.08">HLA-DRA</text>
<line x1="171.5" y1="255.8" x2="171.5" y2="330.4" stroke="#1e1e1e" stroke-width="1.25"/>
<line x1="168.6" y1="320.0" x2="171.5" y2="320.0" stroke="#1e1e1e" stroke-width="1"/>
<text x="163.9" y="322.0" font-size="5.6" text-anchor="middle" fill="#3a3a3a" font-weight="normal" stroke="#3a3a3a" stroke-width="0.1">0</text>
<line x1="168.6" y1="299.9" x2="171.5" y2="299.9" stroke="#1e1e1e" stroke-width="1"/>
<text x="163.9" y="301.9" font-size="5.6" text-anchor="middle" fill="#3a3a3a" font-weight="normal" stroke="#3a3a3a" stroke-width="0.1">2</text>
<line x1="168.6" y1="279.8" x2="171.5" y2="279.8" stroke="#1e1e1e" stroke-width="1"/>
<text x="163.9" y="281.8" font-size="5.6" text-anchor="middle" fill="#3a3a3a" font-weight="normal" stroke="#3a3a3a" stroke-width="0.1">4</text>
<line x1="168.6" y1="259.7" x2="171.5" y2="259.7" stroke="#1e1e1e" stroke-width="1"/>
<text x="163.9" y="261.7" font-size="5.6" text-anchor="middle" fill="#3a3a3a" font-weight="normal" stroke="#3a3a3a" stroke-width="0.1">6</text>
<line x1="170.8" y1="329.75" x2="261.7" y2="329.75" stroke="#1e1e1e" stroke-width="1.5"/>
<line x1="181.8" y1="329.75" x2="181.8" y2="332.8" stroke="#1e1e1e" stroke-width="1.1"/>
<line x1="199.20000000000002" y1="329.75" x2="199.20000000000002" y2="332.8" stroke="#1e1e1e" stroke-width="1.1"/>
<line x1="216.60000000000002" y1="329.75" x2="216.60000000000002" y2="332.8" stroke="#1e1e1e" stroke-width="1.1"/>
<line x1="234.0" y1="329.75" x2="234.0" y2="332.8" stroke="#1e1e1e" stroke-width="1.1"/>
<line x1="251.4" y1="329.75" x2="251.4" y2="332.8" stroke="#1e1e1e" stroke-width="1.1"/>
<path d="M181.80,320.80 C183.13,320.67 188.72,320.97 189.80,320.00 C190.88,319.03 188.83,316.99 188.30,314.98 C187.77,312.97 186.93,309.78 186.60,307.94 C186.27,306.10 186.18,305.43 186.30,303.92 C186.42,302.41 187.02,300.90 187.30,298.89 C187.58,296.88 188.00,293.87 188.00,291.86 C188.00,289.85 187.92,288.09 187.30,286.83 C186.68,285.58 185.22,284.82 184.30,284.32 C183.38,283.82 182.22,283.90 181.80,283.82 L181.80,283.82 C181.38,283.90 180.22,283.82 179.30,284.32 C178.38,284.82 176.92,285.58 176.30,286.83 C175.68,288.09 175.60,289.85 175.60,291.86 C175.60,293.87 176.02,296.88 176.30,298.89 C176.58,300.90 177.18,302.41 177.30,303.92 C177.42,305.43 177.33,306.10 177.00,307.94 C176.67,309.78 175.83,312.97 175.30,314.98 C174.77,316.99 172.72,319.03 173.80,320.00 C174.88,320.97 180.47,320.67 181.80,320.80Z" fill="#F6B767" stroke="#EDA855" stroke-width="0.25"/>
<circle cx="182.99" cy="303.03" r="0.85" fill="#8e5329" opacity="0.6"/>
<circle cx="182.05" cy="302.58" r="0.85" fill="#8e5329" opacity="0.6"/>
<circle cx="182.25" cy="312.18" r="0.85" fill="#8e5329" opacity="0.6"/>
<circle cx="181.08" cy="291.40" r="0.85" fill="#8e5329" opacity="0.6"/>
<circle cx="182.57" cy="315.39" r="0.85" fill="#8e5329" opacity="0.6"/>
<circle cx="180.16" cy="297.46" r="0.85" fill="#8e5329" opacity="0.6"/>
<circle cx="180.83" cy="300.44" r="0.85" fill="#8e5329" opacity="0.6"/>
<circle cx="181.68" cy="310.23" r="0.85" fill="#8e5329" opacity="0.6"/>
<circle cx="181.80" cy="300.75" r="0.85" fill="#8e5329" opacity="0.6"/>
<circle cx="181.03" cy="295.86" r="0.85" fill="#8e5329" opacity="0.6"/>
<circle cx="181.14" cy="289.78" r="0.85" fill="#8e5329" opacity="0.6"/>
<circle cx="180.39" cy="310.64" r="0.85" fill="#8e5329" opacity="0.6"/>
<circle cx="183.08" cy="292.31" r="0.85" fill="#8e5329" opacity="0.6"/>
<circle cx="180.78" cy="289.54" r="0.85" fill="#8e5329" opacity="0.6"/>
<circle cx="183.41" cy="287.39" r="0.85" fill="#8e5329" opacity="0.6"/>
<circle cx="182.16" cy="304.91" r="0.85" fill="#8e5329" opacity="0.6"/>
<circle cx="180.26" cy="291.89" r="0.85" fill="#8e5329" opacity="0.6"/>
<circle cx="180.87" cy="292.59" r="0.85" fill="#8e5329" opacity="0.6"/>
<circle cx="182.96" cy="315.04" r="0.85" fill="#8e5329" opacity="0.6"/>
<circle cx="181.61" cy="312.42" r="0.85" fill="#8e5329" opacity="0.6"/>
<circle cx="180.36" cy="314.02" r="0.85" fill="#8e5329" opacity="0.6"/>
<circle cx="181.18" cy="304.12" r="0.85" fill="#8e5329" opacity="0.6"/>
<circle cx="182.99" cy="311.29" r="0.85" fill="#8e5329" opacity="0.6"/>
<circle cx="183.48" cy="296.56" r="0.85" fill="#8e5329" opacity="0.6"/>
<circle cx="182.71" cy="311.21" r="0.85" fill="#8e5329" opacity="0.6"/>
<circle cx="180.58" cy="307.25" r="0.85" fill="#8e5329" opacity="0.6"/>
<circle cx="180.78" cy="315.41" r="0.85" fill="#8e5329" opacity="0.6"/>
<circle cx="181.64" cy="297.95" r="0.85" fill="#8e5329" opacity="0.6"/>
<circle cx="181.99" cy="285.72" r="0.85" fill="#8e5329" opacity="0.6"/>
<circle cx="180.60" cy="288.88" r="0.85" fill="#8e5329" opacity="0.6"/>
<circle cx="182.56" cy="309.97" r="0.85" fill="#8e5329" opacity="0.6"/>
<circle cx="183.13" cy="286.36" r="0.85" fill="#8e5329" opacity="0.6"/>
<circle cx="181.53" cy="288.35" r="0.85" fill="#8e5329" opacity="0.6"/>
<circle cx="183.60" cy="314.94" r="0.85" fill="#8e5329" opacity="0.6"/>
<circle cx="181.80" cy="284.82" r="0.95" fill="#2a2a35"/>
<rect x="179.4" y="319.1" width="4.8" height="1.8" fill="#3a3030"/>
<path d="M199.20,320.80 C199.70,320.67 201.95,320.97 202.20,320.00 C202.45,319.03 200.97,316.48 200.70,314.98 C200.43,313.47 200.35,312.63 200.60,310.95 C200.85,309.28 201.52,307.10 202.20,304.93 C202.88,302.75 203.98,300.40 204.70,297.89 C205.42,295.38 206.33,292.03 206.50,289.85 C206.67,287.67 206.50,286.33 205.70,284.82 C204.90,283.32 202.78,281.56 201.70,280.81 C200.62,280.05 199.62,280.39 199.20,280.30 L199.20,280.30 C198.78,280.39 197.78,280.05 196.70,280.81 C195.62,281.56 193.50,283.32 192.70,284.82 C191.90,286.33 191.73,287.67 191.90,289.85 C192.07,292.03 192.98,295.38 193.70,297.89 C194.42,300.40 195.52,302.75 196.20,304.93 C196.88,307.10 197.55,309.28 197.80,310.95 C198.05,312.63 197.97,313.47 197.70,314.98 C197.43,316.48 195.95,319.03 196.20,320.00 C196.45,320.97 198.70,320.67 199.20,320.80Z" fill="#F6B767" stroke="#EDA855" stroke-width="0.25"/>
<circle cx="197.29" cy="293.38" r="0.85" fill="#8e5329" opacity="0.6"/>
<circle cx="199.80" cy="304.37" r="0.85" fill="#8e5329" opacity="0.6"/>
<circle cx="199.43" cy="292.47" r="0.85" fill="#8e5329" opacity="0.6"/>
<circle cx="198.97" cy="293.57" r="0.85" fill="#8e5329" opacity="0.6"/>
<circle cx="197.41" cy="286.74" r="0.85" fill="#8e5329" opacity="0.6"/>
<circle cx="197.80" cy="284.01" r="0.85" fill="#8e5329" opacity="0.6"/>
<circle cx="199.92" cy="295.07" r="0.85" fill="#8e5329" opacity="0.6"/>
<circle cx="199.57" cy="316.56" r="0.85" fill="#8e5329" opacity="0.6"/>
<circle cx="199.40" cy="303.40" r="0.85" fill="#8e5329" opacity="0.6"/>
<circle cx="197.91" cy="300.52" r="0.85" fill="#8e5329" opacity="0.6"/>
<circle cx="199.54" cy="305.06" r="0.85" fill="#8e5329" opacity="0.6"/>
<circle cx="198.15" cy="293.10" r="0.85" fill="#8e5329" opacity="0.6"/>
<circle cx="197.22" cy="287.96" r="0.85" fill="#8e5329" opacity="0.6"/>
<circle cx="199.28" cy="287.49" r="0.85" fill="#8e5329" opacity="0.6"/>
<circle cx="199.00" cy="317.10" r="0.85" fill="#8e5329" opacity="0.6"/>
<circle cx="199.05" cy="294.49" r="0.85" fill="#8e5329" opacity="0.6"/>
<circle cx="199.66" cy="304.77" r="0.85" fill="#8e5329" opacity="0.6"/>
<circle cx="198.39" cy="284.12" r="0.85" fill="#8e5329" opacity="0.6"/>
<circle cx="198.08" cy="289.45" r="0.85" fill="#8e5329" opacity="0.6"/>
<circle cx="199.38" cy="318.17" r="0.85" fill="#8e5329" opacity="0.6"/>
<circle cx="198.68" cy="299.51" r="0.85" fill="#8e5329" opacity="0.6"/>
<circle cx="199.80" cy="288.82" r="0.85" fill="#8e5329" opacity="0.6"/>
<circle cx="198.39" cy="284.79" r="0.85" fill="#8e5329" opacity="0.6"/>
<circle cx="200.96" cy="285.58" r="0.85" fill="#8e5329" opacity="0.6"/>
<circle cx="198.32" cy="291.93" r="0.85" fill="#8e5329" opacity="0.6"/>
<circle cx="200.76" cy="292.33" r="0.85" fill="#8e5329" opacity="0.6"/>
<circle cx="199.05" cy="302.65" r="0.85" fill="#8e5329" opacity="0.6"/>
<circle cx="199.50" cy="284.54" r="0.85" fill="#8e5329" opacity="0.6"/>
<circle cx="199.61" cy="305.40" r="0.85" fill="#8e5329" opacity="0.6"/>
<circle cx="199.91" cy="297.26" r="0.85" fill="#8e5329" opacity="0.6"/>
<circle cx="200.66" cy="284.43" r="0.85" fill="#8e5329" opacity="0.6"/>
<circle cx="200.22" cy="284.18" r="0.85" fill="#8e5329" opacity="0.6"/>
<circle cx="198.91" cy="304.19" r="0.85" fill="#8e5329" opacity="0.6"/>
<circle cx="199.69" cy="292.52" r="0.85" fill="#8e5329" opacity="0.6"/>
<circle cx="198.16" cy="292.09" r="0.85" fill="#8e5329" opacity="0.6"/>
<circle cx="199.60" cy="303.16" r="0.85" fill="#8e5329" opacity="0.6"/>
<circle cx="199.04" cy="313.15" r="0.85" fill="#8e5329" opacity="0.6"/>
<circle cx="199.85" cy="292.27" r="0.85" fill="#8e5329" opacity="0.6"/>
<circle cx="197.80" cy="283.27" r="0.85" fill="#8e5329" opacity="0.6"/>
<circle cx="198.29" cy="300.11" r="0.85" fill="#8e5329" opacity="0.6"/>
<circle cx="198.18" cy="293.34" r="0.85" fill="#8e5329" opacity="0.6"/>
<circle cx="199.20" cy="280.81" r="0.95" fill="#2a2a35"/>
<rect x="196.8" y="319.1" width="4.8" height="1.8" fill="#3a3030"/>
<path d="M216.60,320.80 C217.80,320.67 223.05,320.80 223.80,320.00 C224.55,319.20 221.93,317.49 221.10,315.98 C220.27,314.47 219.22,312.29 218.80,310.95 C218.38,309.62 218.38,309.28 218.60,307.94 C218.82,306.60 219.40,304.93 220.10,302.92 C220.80,300.91 222.22,297.89 222.80,295.88 C223.38,293.87 223.67,292.53 223.60,290.86 C223.53,289.18 223.03,287.50 222.40,285.83 C221.77,284.15 220.60,282.14 219.80,280.81 C219.00,279.47 218.13,278.38 217.60,277.79 C217.07,277.20 216.77,277.37 216.60,277.29 L216.60,277.29 C216.43,277.37 216.13,277.20 215.60,277.79 C215.07,278.38 214.20,279.47 213.40,280.81 C212.60,282.14 211.43,284.15 210.80,285.83 C210.17,287.50 209.67,289.18 209.60,290.86 C209.53,292.53 209.82,293.87 210.40,295.88 C210.98,297.89 212.40,300.91 213.10,302.92 C213.80,304.93 214.38,306.60 214.60,307.94 C214.82,309.28 214.82,309.62 214.40,310.95 C213.98,312.29 212.93,314.47 212.10,315.98 C211.27,317.49 208.65,319.20 209.40,320.00 C210.15,320.80 215.40,320.67 216.60,320.80Z" fill="#F6B767" stroke="#EDA855" stroke-width="0.25"/>
<circle cx="215.29" cy="290.65" r="0.85" fill="#8e5329" opacity="0.6"/>
<circle cx="216.26" cy="309.11" r="0.85" fill="#8e5329" opacity="0.6"/>
<circle cx="216.72" cy="288.62" r="0.85" fill="#8e5329" opacity="0.6"/>
<circle cx="216.51" cy="309.79" r="0.85" fill="#8e5329" opacity="0.6"/>
<circle cx="215.13" cy="284.40" r="0.85" fill="#8e5329" opacity="0.6"/>
<circle cx="217.09" cy="307.27" r="0.85" fill="#8e5329" opacity="0.6"/>
<circle cx="216.09" cy="295.53" r="0.85" fill="#8e5329" opacity="0.6"/>
<circle cx="215.63" cy="301.00" r="0.85" fill="#8e5329" opacity="0.6"/>
<circle cx="215.25" cy="295.93" r="0.85" fill="#8e5329" opacity="0.6"/>
<circle cx="215.24" cy="290.94" r="0.85" fill="#8e5329" opacity="0.6"/>
<circle cx="215.15" cy="293.85" r="0.85" fill="#8e5329" opacity="0.6"/>
<circle cx="215.78" cy="298.51" r="0.85" fill="#8e5329" opacity="0.6"/>
<circle cx="217.52" cy="316.73" r="0.85" fill="#8e5329" opacity="0.6"/>
<circle cx="215.57" cy="284.38" r="0.85" fill="#8e5329" opacity="0.6"/>
<circle cx="215.47" cy="293.93" r="0.85" fill="#8e5329" opacity="0.6"/>
<circle cx="216.96" cy="293.37" r="0.85" fill="#8e5329" opacity="0.6"/>
<circle cx="216.00" cy="304.60" r="0.85" fill="#8e5329" opacity="0.6"/>
<circle cx="215.46" cy="290.65" r="0.85" fill="#8e5329" opacity="0.6"/>
<circle cx="214.88" cy="295.86" r="0.85" fill="#8e5329" opacity="0.6"/>
<circle cx="215.53" cy="300.60" r="0.85" fill="#8e5329" opacity="0.6"/>
<circle cx="216.13" cy="313.55" r="0.85" fill="#8e5329" opacity="0.6"/>
<circle cx="216.48" cy="294.18" r="0.85" fill="#8e5329" opacity="0.6"/>
<circle cx="216.59" cy="318.26" r="0.85" fill="#8e5329" opacity="0.6"/>
<circle cx="216.00" cy="299.19" r="0.85" fill="#8e5329" opacity="0.6"/>
<circle cx="217.91" cy="317.20" r="0.85" fill="#8e5329" opacity="0.6"/>
<circle cx="217.31" cy="288.44" r="0.85" fill="#8e5329" opacity="0.6"/>
<circle cx="216.85" cy="283.93" r="0.85" fill="#8e5329" opacity="0.6"/>
<circle cx="216.20" cy="304.02" r="0.85" fill="#8e5329" opacity="0.6"/>
<circle cx="215.32" cy="316.94" r="0.85" fill="#8e5329" opacity="0.6"/>
<circle cx="214.75" cy="287.63" r="0.85" fill="#8e5329" opacity="0.6"/>
<circle cx="216.53" cy="286.99" r="0.85" fill="#8e5329" opacity="0.6"/>
<circle cx="215.82" cy="295.92" r="0.85" fill="#8e5329" opacity="0.6"/>
<circle cx="217.54" cy="300.79" r="0.85" fill="#8e5329" opacity="0.6"/>
<circle cx="215.80" cy="302.69" r="0.85" fill="#8e5329" opacity="0.6"/>
<circle cx="217.33" cy="303.80" r="0.85" fill="#8e5329" opacity="0.6"/>
<circle cx="216.63" cy="278.20" r="0.85" fill="#8e5329" opacity="0.6"/>
<circle cx="214.81" cy="296.29" r="0.85" fill="#8e5329" opacity="0.6"/>
<circle cx="217.21" cy="303.37" r="0.85" fill="#8e5329" opacity="0.6"/>
<circle cx="216.68" cy="291.36" r="0.85" fill="#8e5329" opacity="0.6"/>
<circle cx="216.75" cy="281.03" r="0.85" fill="#8e5329" opacity="0.6"/>
<circle cx="218.18" cy="293.23" r="0.85" fill="#8e5329" opacity="0.6"/>
<circle cx="216.67" cy="313.80" r="0.85" fill="#8e5329" opacity="0.6"/>
<circle cx="215.93" cy="285.42" r="0.85" fill="#8e5329" opacity="0.6"/>
<circle cx="215.46" cy="314.96" r="0.85" fill="#8e5329" opacity="0.6"/>
<circle cx="217.45" cy="288.90" r="0.85" fill="#8e5329" opacity="0.6"/>
<circle cx="217.01" cy="285.56" r="0.85" fill="#8e5329" opacity="0.6"/>
<circle cx="217.68" cy="314.04" r="0.85" fill="#8e5329" opacity="0.6"/>
<circle cx="217.43" cy="299.31" r="0.85" fill="#8e5329" opacity="0.6"/>
<circle cx="215.31" cy="300.17" r="0.85" fill="#8e5329" opacity="0.6"/>
<circle cx="217.20" cy="280.34" r="0.85" fill="#8e5329" opacity="0.6"/>
<circle cx="218.00" cy="283.75" r="0.85" fill="#8e5329" opacity="0.6"/>
<circle cx="215.71" cy="287.48" r="0.85" fill="#8e5329" opacity="0.6"/>
<circle cx="216.16" cy="296.65" r="0.85" fill="#8e5329" opacity="0.6"/>
<circle cx="216.82" cy="299.11" r="0.85" fill="#8e5329" opacity="0.6"/>
<circle cx="216.72" cy="311.22" r="0.85" fill="#8e5329" opacity="0.6"/>
<circle cx="217.66" cy="298.27" r="0.85" fill="#8e5329" opacity="0.6"/>
<circle cx="218.48" cy="292.07" r="0.85" fill="#8e5329" opacity="0.6"/>
<circle cx="216.60" cy="312.23" r="0.85" fill="#8e5329" opacity="0.6"/>
<circle cx="216.57" cy="280.81" r="0.85" fill="#8e5329" opacity="0.6"/>
<circle cx="216.72" cy="293.74" r="0.85" fill="#8e5329" opacity="0.6"/>
<circle cx="217.52" cy="318.10" r="0.85" fill="#8e5329" opacity="0.6"/>
<circle cx="215.80" cy="304.66" r="0.85" fill="#8e5329" opacity="0.6"/>
<circle cx="218.29" cy="289.98" r="0.85" fill="#8e5329" opacity="0.6"/>
<circle cx="218.19" cy="288.35" r="0.85" fill="#8e5329" opacity="0.6"/>
<circle cx="217.29" cy="284.66" r="0.85" fill="#8e5329" opacity="0.6"/>
<circle cx="215.59" cy="291.34" r="0.85" fill="#8e5329" opacity="0.6"/>
<circle cx="217.15" cy="294.21" r="0.85" fill="#8e5329" opacity="0.6"/>
<circle cx="217.68" cy="293.66" r="0.85" fill="#8e5329" opacity="0.6"/>
<circle cx="216.60" cy="277.79" r="0.95" fill="#2a2a35"/>
<rect x="214.20000000000002" y="319.1" width="4.8" height="1.8" fill="#3a3030"/>
<path d="M234.00,320.80 C235.20,320.67 240.28,320.97 241.20,320.00 C242.12,319.03 240.03,316.65 239.50,314.98 C238.97,313.30 238.33,311.37 238.00,309.95 C237.67,308.53 237.47,307.77 237.50,306.43 C237.53,305.09 237.85,303.84 238.20,301.91 C238.55,299.98 239.20,297.22 239.60,294.88 C240.00,292.53 240.37,290.02 240.60,287.84 C240.83,285.66 240.93,283.74 241.00,281.81 C241.07,279.88 241.25,277.62 241.00,276.28 C240.75,274.94 240.67,274.36 239.50,273.77 C238.33,273.18 234.92,272.93 234.00,272.76 L234.00,272.76 C233.08,272.93 229.67,273.18 228.50,273.77 C227.33,274.36 227.25,274.94 227.00,276.28 C226.75,277.62 226.93,279.88 227.00,281.81 C227.07,283.74 227.17,285.66 227.40,287.84 C227.63,290.02 228.00,292.53 228.40,294.88 C228.80,297.22 229.45,299.98 229.80,301.91 C230.15,303.84 230.47,305.09 230.50,306.43 C230.53,307.77 230.33,308.53 230.00,309.95 C229.67,311.37 229.03,313.30 228.50,314.98 C227.97,316.65 225.88,319.03 226.80,320.00 C227.72,320.97 232.80,320.67 234.00,320.80Z" fill="#F6B767" stroke="#EDA855" stroke-width="0.25"/>
<circle cx="234.47" cy="313.66" r="0.85" fill="#8e5329" opacity="0.6"/>
<circle cx="233.00" cy="275.97" r="0.85" fill="#8e5329" opacity="0.6"/>
<circle cx="233.20" cy="285.29" r="0.85" fill="#8e5329" opacity="0.6"/>
<circle cx="235.10" cy="287.55" r="0.85" fill="#8e5329" opacity="0.6"/>
<circle cx="235.19" cy="313.14" r="0.85" fill="#8e5329" opacity="0.6"/>
<circle cx="234.76" cy="302.30" r="0.85" fill="#8e5329" opacity="0.6"/>
<circle cx="234.19" cy="289.93" r="0.85" fill="#8e5329" opacity="0.6"/>
<circle cx="234.59" cy="288.46" r="0.85" fill="#8e5329" opacity="0.6"/>
<circle cx="232.78" cy="312.93" r="0.85" fill="#8e5329" opacity="0.6"/>
<circle cx="235.08" cy="298.65" r="0.85" fill="#8e5329" opacity="0.6"/>
<circle cx="234.35" cy="287.43" r="0.85" fill="#8e5329" opacity="0.6"/>
<circle cx="232.46" cy="289.83" r="0.85" fill="#8e5329" opacity="0.6"/>
<circle cx="232.71" cy="278.93" r="0.85" fill="#8e5329" opacity="0.6"/>
<circle cx="234.89" cy="298.02" r="0.85" fill="#8e5329" opacity="0.6"/>
<circle cx="235.03" cy="295.86" r="0.85" fill="#8e5329" opacity="0.6"/>
<circle cx="232.49" cy="314.44" r="0.85" fill="#8e5329" opacity="0.6"/>
<circle cx="234.10" cy="285.01" r="0.85" fill="#8e5329" opacity="0.6"/>
<circle cx="234.59" cy="314.29" r="0.85" fill="#8e5329" opacity="0.6"/>
<circle cx="233.95" cy="294.30" r="0.85" fill="#8e5329" opacity="0.6"/>
<circle cx="232.83" cy="298.73" r="0.85" fill="#8e5329" opacity="0.6"/>
<circle cx="235.13" cy="297.03" r="0.85" fill="#8e5329" opacity="0.6"/>
<circle cx="232.53" cy="276.03" r="0.85" fill="#8e5329" opacity="0.6"/>
<circle cx="232.07" cy="286.68" r="0.85" fill="#8e5329" opacity="0.6"/>
<circle cx="234.20" cy="299.36" r="0.85" fill="#8e5329" opacity="0.6"/>
<circle cx="233.19" cy="276.02" r="0.85" fill="#8e5329" opacity="0.6"/>
<circle cx="233.66" cy="297.27" r="0.85" fill="#8e5329" opacity="0.6"/>
<circle cx="235.78" cy="316.92" r="0.85" fill="#8e5329" opacity="0.6"/>
<circle cx="235.57" cy="291.99" r="0.85" fill="#8e5329" opacity="0.6"/>
<circle cx="232.84" cy="302.29" r="0.85" fill="#8e5329" opacity="0.6"/>
<circle cx="233.26" cy="311.88" r="0.85" fill="#8e5329" opacity="0.6"/>
<circle cx="232.94" cy="279.01" r="0.85" fill="#8e5329" opacity="0.6"/>
<circle cx="234.24" cy="301.82" r="0.85" fill="#8e5329" opacity="0.6"/>
<circle cx="234.03" cy="275.88" r="0.85" fill="#8e5329" opacity="0.6"/>
<circle cx="233.51" cy="280.44" r="0.85" fill="#8e5329" opacity="0.6"/>
<circle cx="235.03" cy="275.08" r="0.85" fill="#8e5329" opacity="0.6"/>
<circle cx="235.61" cy="290.78" r="0.85" fill="#8e5329" opacity="0.6"/>
<circle cx="233.27" cy="297.29" r="0.85" fill="#8e5329" opacity="0.6"/>
<circle cx="234.59" cy="313.82" r="0.85" fill="#8e5329" opacity="0.6"/>
<circle cx="233.40" cy="273.77" r="0.95" fill="#2a2a35"/>
<circle cx="234.60" cy="273.77" r="0.95" fill="#2a2a35"/>
<rect x="231.6" y="319.1" width="4.8" height="1.8" fill="#3a3030"/>
<path d="M251.40,319.50 C251.63,319.25 252.30,319.25 252.80,317.99 C253.30,316.73 253.67,314.30 254.40,311.96 C255.13,309.62 256.53,306.60 257.20,303.92 C257.87,301.24 258.45,298.06 258.40,295.88 C258.35,293.70 257.60,292.53 256.90,290.86 C256.20,289.18 254.98,287.25 254.20,285.83 C253.42,284.41 252.67,282.98 252.20,282.31 C251.73,281.64 251.53,281.89 251.40,281.81 L251.40,281.81 C251.27,281.89 251.07,281.64 250.60,282.31 C250.13,282.98 249.38,284.41 248.60,285.83 C247.82,287.25 246.60,289.18 245.90,290.86 C245.20,292.53 244.45,293.70 244.40,295.88 C244.35,298.06 244.93,301.24 245.60,303.92 C246.27,306.60 247.67,309.62 248.40,311.96 C249.13,314.30 249.50,316.73 250.00,317.99 C250.50,319.25 251.17,319.25 251.40,319.50Z" fill="#F6B767" stroke="#EDA855" stroke-width="0.25"/>
<circle cx="251.61" cy="283.57" r="0.85" fill="#8e5329" opacity="0.6"/>
<circle cx="253.32" cy="293.84" r="0.85" fill="#8e5329" opacity="0.6"/>
<circle cx="251.87" cy="309.82" r="0.85" fill="#8e5329" opacity="0.6"/>
<circle cx="250.71" cy="308.34" r="0.85" fill="#8e5329" opacity="0.6"/>
<circle cx="252.63" cy="289.63" r="0.85" fill="#8e5329" opacity="0.6"/>
<circle cx="251.23" cy="299.99" r="0.85" fill="#8e5329" opacity="0.6"/>
<circle cx="251.63" cy="303.30" r="0.85" fill="#8e5329" opacity="0.6"/>
<circle cx="252.76" cy="305.47" r="0.85" fill="#8e5329" opacity="0.6"/>
<circle cx="252.88" cy="295.14" r="0.85" fill="#8e5329" opacity="0.6"/>
<circle cx="251.12" cy="317.81" r="0.85" fill="#8e5329" opacity="0.6"/>
<circle cx="251.38" cy="292.48" r="0.85" fill="#8e5329" opacity="0.6"/>
<circle cx="250.68" cy="286.40" r="0.85" fill="#8e5329" opacity="0.6"/>
<circle cx="251.16" cy="288.08" r="0.85" fill="#8e5329" opacity="0.6"/>
<circle cx="253.10" cy="300.33" r="0.85" fill="#8e5329" opacity="0.6"/>
<circle cx="250.81" cy="305.69" r="0.85" fill="#8e5329" opacity="0.6"/>
<circle cx="252.45" cy="288.65" r="0.85" fill="#8e5329" opacity="0.6"/>
<circle cx="250.13" cy="306.33" r="0.85" fill="#8e5329" opacity="0.6"/>
<circle cx="251.37" cy="301.33" r="0.85" fill="#8e5329" opacity="0.6"/>
<circle cx="252.43" cy="308.10" r="0.85" fill="#8e5329" opacity="0.6"/>
<circle cx="251.40" cy="284.32" r="0.85" fill="#8e5329" opacity="0.6"/>
<circle cx="251.75" cy="316.93" r="0.85" fill="#8e5329" opacity="0.6"/>
<circle cx="252.52" cy="297.89" r="0.85" fill="#8e5329" opacity="0.6"/>
<circle cx="250.40" cy="297.03" r="0.85" fill="#8e5329" opacity="0.6"/>
<circle cx="251.19" cy="315.42" r="0.85" fill="#8e5329" opacity="0.6"/>
<circle cx="250.78" cy="295.03" r="0.85" fill="#8e5329" opacity="0.6"/>
<circle cx="251.80" cy="296.11" r="0.85" fill="#8e5329" opacity="0.6"/>
<circle cx="251.70" cy="286.20" r="0.85" fill="#8e5329" opacity="0.6"/>
<circle cx="251.46" cy="305.90" r="0.85" fill="#8e5329" opacity="0.6"/>
<circle cx="252.17" cy="313.29" r="0.85" fill="#8e5329" opacity="0.6"/>
<circle cx="250.71" cy="293.73" r="0.85" fill="#8e5329" opacity="0.6"/>
<circle cx="250.74" cy="296.61" r="0.85" fill="#8e5329" opacity="0.6"/>
<circle cx="251.80" cy="316.36" r="0.85" fill="#8e5329" opacity="0.6"/>
<circle cx="252.58" cy="292.12" r="0.85" fill="#8e5329" opacity="0.6"/>
<circle cx="252.99" cy="297.66" r="0.85" fill="#8e5329" opacity="0.6"/>
<circle cx="251.17" cy="313.83" r="0.85" fill="#8e5329" opacity="0.6"/>
<circle cx="251.35" cy="291.80" r="0.85" fill="#8e5329" opacity="0.6"/>
<circle cx="252.25" cy="289.98" r="0.85" fill="#8e5329" opacity="0.6"/>
<circle cx="252.42" cy="297.55" r="0.85" fill="#8e5329" opacity="0.6"/>
<circle cx="251.58" cy="305.15" r="0.85" fill="#8e5329" opacity="0.6"/>
<circle cx="251.52" cy="299.67" r="0.85" fill="#8e5329" opacity="0.6"/>
<circle cx="252.17" cy="301.60" r="0.85" fill="#8e5329" opacity="0.6"/>
<circle cx="252.54" cy="290.33" r="0.85" fill="#8e5329" opacity="0.6"/>
<circle cx="250.11" cy="303.74" r="0.85" fill="#8e5329" opacity="0.6"/>
<circle cx="249.90" cy="293.27" r="0.85" fill="#8e5329" opacity="0.6"/>
<circle cx="252.12" cy="295.12" r="0.85" fill="#8e5329" opacity="0.6"/>
<circle cx="250.34" cy="299.12" r="0.85" fill="#8e5329" opacity="0.6"/>
<circle cx="251.40" cy="305.02" r="0.85" fill="#8e5329" opacity="0.6"/>
<circle cx="251.28" cy="301.17" r="0.85" fill="#8e5329" opacity="0.6"/>
<circle cx="251.08" cy="296.92" r="0.85" fill="#8e5329" opacity="0.6"/>
<circle cx="251.69" cy="285.96" r="0.85" fill="#8e5329" opacity="0.6"/>
<circle cx="249.45" cy="296.35" r="0.85" fill="#8e5329" opacity="0.6"/>
<circle cx="252.45" cy="302.17" r="0.85" fill="#8e5329" opacity="0.6"/>
<circle cx="251.08" cy="304.37" r="0.85" fill="#8e5329" opacity="0.6"/>
<circle cx="250.02" cy="295.51" r="0.85" fill="#8e5329" opacity="0.6"/>
<circle cx="250.25" cy="297.83" r="0.85" fill="#8e5329" opacity="0.6"/>
<circle cx="252.15" cy="300.19" r="0.85" fill="#8e5329" opacity="0.6"/>
<circle cx="252.79" cy="293.81" r="0.85" fill="#8e5329" opacity="0.6"/>
<circle cx="251.40" cy="281.81" r="0.95" fill="#2a2a35"/>
<rect x="249.0" y="319.1" width="4.8" height="1.8" fill="#3a3030"/>
<text x="181.8" y="257.6" font-size="6.8" text-anchor="middle" fill="#D8365A" font-weight="normal" textLength="2.75" lengthAdjust="spacingAndGlyphs" stroke="#D8365A" stroke-width="0.08">*</text>
<text x="199.20000000000002" y="258.6" font-size="6.6" text-anchor="middle" fill="#333" font-weight="normal" textLength="5.4" lengthAdjust="spacingAndGlyphs" stroke="#333" stroke-width="0.12">ns</text>
<text x="216.60000000000002" y="258.6" font-size="6.6" text-anchor="middle" fill="#333" font-weight="normal" textLength="5.4" lengthAdjust="spacingAndGlyphs" stroke="#333" stroke-width="0.12">ns</text>
<text x="234.0" y="258.6" font-size="6.6" text-anchor="middle" fill="#333" font-weight="normal" textLength="5.4" lengthAdjust="spacingAndGlyphs" stroke="#333" stroke-width="0.12">ns</text>
<path d="M181.8,273.8 V272.0 H199.20000000000002 V273.8" fill="none" stroke="#333" stroke-width="1"/>
<text x="190.5" y="269.7" font-size="6.9" text-anchor="middle" fill="#D8365A" font-weight="normal" textLength="18.299999999999997" lengthAdjust="spacingAndGlyphs" stroke="#D8365A" stroke-width="0.1">0.0066</text>
<path d="M216.60000000000002,268.2 V266.4 H234.0 V268.2" fill="none" stroke="#333" stroke-width="1"/>
<text x="225.3" y="264.09999999999997" font-size="6.9" text-anchor="middle" fill="#333" font-weight="normal" textLength="12.2" lengthAdjust="spacingAndGlyphs" stroke="#333" stroke-width="0.1">0.16</text>
<text x="325.5" y="248.3" font-size="8.3" text-anchor="middle" fill="#222" font-weight="normal" textLength="39.5" lengthAdjust="spacingAndGlyphs" stroke="#222" stroke-width="0.08">HLA-DRB1</text>
<line x1="280.6" y1="255.8" x2="280.6" y2="330.4" stroke="#1e1e1e" stroke-width="1.25"/>
<line x1="277.70000000000005" y1="320.0" x2="280.6" y2="320.0" stroke="#1e1e1e" stroke-width="1"/>
<text x="273.0" y="322.0" font-size="5.6" text-anchor="middle" fill="#3a3a3a" font-weight="normal" stroke="#3a3a3a" stroke-width="0.1">0</text>
<line x1="277.70000000000005" y1="298.1" x2="280.6" y2="298.1" stroke="#1e1e1e" stroke-width="1"/>
<text x="273.0" y="300.1" font-size="5.6" text-anchor="middle" fill="#3a3a3a" font-weight="normal" stroke="#3a3a3a" stroke-width="0.1">2</text>
<line x1="277.70000000000005" y1="276.2" x2="280.6" y2="276.2" stroke="#1e1e1e" stroke-width="1"/>
<text x="273.0" y="278.2" font-size="5.6" text-anchor="middle" fill="#3a3a3a" font-weight="normal" stroke="#3a3a3a" stroke-width="0.1">4</text>
<line x1="279.90000000000003" y1="329.75" x2="370.8" y2="329.75" stroke="#1e1e1e" stroke-width="1.5"/>
<line x1="290.90000000000003" y1="329.75" x2="290.90000000000003" y2="332.8" stroke="#1e1e1e" stroke-width="1.1"/>
<line x1="308.3" y1="329.75" x2="308.3" y2="332.8" stroke="#1e1e1e" stroke-width="1.1"/>
<line x1="325.70000000000005" y1="329.75" x2="325.70000000000005" y2="332.8" stroke="#1e1e1e" stroke-width="1.1"/>
<line x1="343.1" y1="329.75" x2="343.1" y2="332.8" stroke="#1e1e1e" stroke-width="1.1"/>
<line x1="360.5" y1="329.75" x2="360.5" y2="332.8" stroke="#1e1e1e" stroke-width="1.1"/>
<path d="M290.90,320.88 C292.03,320.73 296.53,320.42 297.70,320.00 C298.87,319.58 298.45,319.18 297.90,318.36 C297.35,317.54 295.43,316.17 294.40,315.07 C293.37,313.98 292.22,312.79 291.70,311.79 C291.18,310.78 291.30,310.60 291.30,309.05 C291.30,307.50 291.63,304.85 291.70,302.48 C291.77,300.11 291.77,296.64 291.70,294.81 C291.63,292.99 291.43,292.17 291.30,291.53 C291.17,290.89 290.97,291.07 290.90,290.98 L290.90,290.98 C290.83,291.07 290.63,290.89 290.50,291.53 C290.37,292.17 290.17,292.99 290.10,294.81 C290.03,296.64 290.03,300.11 290.10,302.48 C290.17,304.85 290.50,307.50 290.50,309.05 C290.50,310.60 290.62,310.78 290.10,311.79 C289.58,312.79 288.43,313.98 287.40,315.07 C286.37,316.17 284.45,317.54 283.90,318.36 C283.35,319.18 282.93,319.58 284.10,320.00 C285.27,320.42 289.77,320.73 290.90,320.88Z" fill="#F6B767" stroke="#EDA855" stroke-width="0.25"/>
<circle cx="290.24" cy="318.09" r="0.85" fill="#8e5329" opacity="0.6"/>
<circle cx="291.37" cy="317.62" r="0.85" fill="#8e5329" opacity="0.6"/>
<circle cx="291.60" cy="316.59" r="0.85" fill="#8e5329" opacity="0.6"/>
<circle cx="290.87" cy="318.01" r="0.85" fill="#8e5329" opacity="0.6"/>
<circle cx="289.88" cy="317.75" r="0.85" fill="#8e5329" opacity="0.6"/>
<circle cx="290.61" cy="312.25" r="0.85" fill="#8e5329" opacity="0.6"/>
<circle cx="291.17" cy="315.10" r="0.85" fill="#8e5329" opacity="0.6"/>
<circle cx="290.40" cy="291.53" r="0.95" fill="#2a2a35"/>
<circle cx="291.40" cy="294.81" r="0.95" fill="#2a2a35"/>
<circle cx="290.90" cy="302.48" r="0.95" fill="#2a2a35"/>
<circle cx="291.20" cy="309.05" r="0.95" fill="#2a2a35"/>
<rect x="288.50000000000006" y="319.1" width="4.8" height="1.8" fill="#3a3030"/>
<path d="M308.30,320.88 C309.38,320.73 314.05,321.06 314.80,320.00 C315.55,318.94 313.45,316.53 312.80,314.52 C312.15,312.52 311.23,309.78 310.90,307.95 C310.57,306.13 310.48,305.22 310.80,303.57 C311.12,301.93 312.13,299.93 312.80,298.10 C313.47,296.28 314.40,294.81 314.80,292.62 C315.20,290.44 315.53,286.88 315.20,284.96 C314.87,283.04 313.70,282.13 312.80,281.13 C311.90,280.12 310.55,279.39 309.80,278.94 C309.05,278.48 308.55,278.48 308.30,278.39 L308.30,278.39 C308.05,278.48 307.55,278.48 306.80,278.94 C306.05,279.39 304.70,280.12 303.80,281.13 C302.90,282.13 301.73,283.04 301.40,284.96 C301.07,286.88 301.40,290.44 301.80,292.62 C302.20,294.81 303.13,296.28 303.80,298.10 C304.47,299.93 305.48,301.93 305.80,303.57 C306.12,305.22 306.03,306.13 305.70,307.95 C305.37,309.78 304.45,312.52 303.80,314.52 C303.15,316.53 301.05,318.94 301.80,320.00 C302.55,321.06 307.22,320.73 308.30,320.88Z" fill="#F6B767" stroke="#EDA855" stroke-width="0.25"/>
<circle cx="308.88" cy="280.49" r="0.85" fill="#8e5329" opacity="0.6"/>
<circle cx="306.75" cy="290.60" r="0.85" fill="#8e5329" opacity="0.6"/>
<circle cx="309.11" cy="317.30" r="0.85" fill="#8e5329" opacity="0.6"/>
<circle cx="309.63" cy="281.10" r="0.85" fill="#8e5329" opacity="0.6"/>
<circle cx="309.07" cy="283.85" r="0.85" fill="#8e5329" opacity="0.6"/>
<circle cx="307.61" cy="283.57" r="0.85" fill="#8e5329" opacity="0.6"/>
<circle cx="306.32" cy="286.29" r="0.85" fill="#8e5329" opacity="0.6"/>
<circle cx="308.68" cy="303.69" r="0.85" fill="#8e5329" opacity="0.6"/>
<circle cx="308.52" cy="284.15" r="0.85" fill="#8e5329" opacity="0.6"/>
<circle cx="307.98" cy="280.62" r="0.85" fill="#8e5329" opacity="0.6"/>
<circle cx="307.17" cy="296.46" r="0.85" fill="#8e5329" opacity="0.6"/>
<circle cx="307.59" cy="292.40" r="0.85" fill="#8e5329" opacity="0.6"/>
<circle cx="306.70" cy="295.56" r="0.85" fill="#8e5329" opacity="0.6"/>
<circle cx="308.17" cy="288.66" r="0.85" fill="#8e5329" opacity="0.6"/>
<circle cx="306.60" cy="289.62" r="0.85" fill="#8e5329" opacity="0.6"/>
<circle cx="308.93" cy="317.54" r="0.85" fill="#8e5329" opacity="0.6"/>
<circle cx="307.89" cy="302.92" r="0.85" fill="#8e5329" opacity="0.6"/>
<circle cx="307.63" cy="312.41" r="0.85" fill="#8e5329" opacity="0.6"/>
<circle cx="309.56" cy="285.16" r="0.85" fill="#8e5329" opacity="0.6"/>
<circle cx="307.90" cy="285.29" r="0.85" fill="#8e5329" opacity="0.6"/>
<circle cx="308.69" cy="315.40" r="0.85" fill="#8e5329" opacity="0.6"/>
<circle cx="307.98" cy="307.90" r="0.85" fill="#8e5329" opacity="0.6"/>
<circle cx="307.87" cy="289.78" r="0.85" fill="#8e5329" opacity="0.6"/>
<circle cx="308.34" cy="299.18" r="0.85" fill="#8e5329" opacity="0.6"/>
<circle cx="307.57" cy="288.72" r="0.85" fill="#8e5329" opacity="0.6"/>
<circle cx="307.32" cy="310.92" r="0.85" fill="#8e5329" opacity="0.6"/>
<circle cx="307.99" cy="289.01" r="0.85" fill="#8e5329" opacity="0.6"/>
<circle cx="308.57" cy="283.14" r="0.85" fill="#8e5329" opacity="0.6"/>
<circle cx="308.63" cy="281.71" r="0.85" fill="#8e5329" opacity="0.6"/>
<circle cx="307.72" cy="288.60" r="0.85" fill="#8e5329" opacity="0.6"/>
<circle cx="308.38" cy="295.04" r="0.85" fill="#8e5329" opacity="0.6"/>
<circle cx="308.10" cy="290.61" r="0.85" fill="#8e5329" opacity="0.6"/>
<circle cx="308.38" cy="300.79" r="0.85" fill="#8e5329" opacity="0.6"/>
<circle cx="307.74" cy="299.64" r="0.85" fill="#8e5329" opacity="0.6"/>
<circle cx="308.33" cy="310.03" r="0.85" fill="#8e5329" opacity="0.6"/>
<circle cx="308.19" cy="290.79" r="0.85" fill="#8e5329" opacity="0.6"/>
<circle cx="309.91" cy="282.64" r="0.85" fill="#8e5329" opacity="0.6"/>
<circle cx="308.45" cy="285.35" r="0.85" fill="#8e5329" opacity="0.6"/>
<circle cx="308.90" cy="288.43" r="0.85" fill="#8e5329" opacity="0.6"/>
<circle cx="308.01" cy="284.83" r="0.85" fill="#8e5329" opacity="0.6"/>
<circle cx="307.35" cy="316.06" r="0.85" fill="#8e5329" opacity="0.6"/>
<circle cx="307.86" cy="297.12" r="0.85" fill="#8e5329" opacity="0.6"/>
<circle cx="307.46" cy="279.91" r="0.85" fill="#8e5329" opacity="0.6"/>
<circle cx="309.34" cy="288.79" r="0.85" fill="#8e5329" opacity="0.6"/>
<circle cx="309.25" cy="285.62" r="0.85" fill="#8e5329" opacity="0.6"/>
<circle cx="308.04" cy="307.13" r="0.85" fill="#8e5329" opacity="0.6"/>
<circle cx="308.28" cy="297.13" r="0.85" fill="#8e5329" opacity="0.6"/>
<circle cx="307.91" cy="307.19" r="0.85" fill="#8e5329" opacity="0.6"/>
<circle cx="307.12" cy="291.51" r="0.85" fill="#8e5329" opacity="0.6"/>
<circle cx="308.30" cy="279.49" r="0.95" fill="#2a2a35"/>
<rect x="305.90000000000003" y="319.1" width="4.8" height="1.8" fill="#3a3030"/>
<path d="M325.70,320.88 C326.95,320.73 332.37,320.88 333.20,320.00 C334.03,319.12 331.45,317.26 330.70,315.62 C329.95,313.98 329.13,311.79 328.70,310.14 C328.27,308.50 328.07,307.41 328.10,305.76 C328.13,304.12 328.60,302.48 328.90,300.29 C329.20,298.10 329.63,295.18 329.90,292.62 C330.17,290.07 330.45,287.15 330.50,284.96 C330.55,282.77 330.50,280.85 330.20,279.49 C329.90,278.12 329.45,277.39 328.70,276.75 C327.95,276.11 326.20,275.84 325.70,275.65 L325.70,275.65 C325.20,275.84 323.45,276.11 322.70,276.75 C321.95,277.39 321.50,278.12 321.20,279.49 C320.90,280.85 320.85,282.77 320.90,284.96 C320.95,287.15 321.23,290.07 321.50,292.62 C321.77,295.18 322.20,298.10 322.50,300.29 C322.80,302.48 323.27,304.12 323.30,305.76 C323.33,307.41 323.13,308.50 322.70,310.14 C322.27,311.79 321.45,313.98 320.70,315.62 C319.95,317.26 317.37,319.12 318.20,320.00 C319.03,320.88 324.45,320.73 325.70,320.88Z" fill="#F6B767" stroke="#EDA855" stroke-width="0.25"/>
<circle cx="325.68" cy="304.25" r="0.85" fill="#8e5329" opacity="0.6"/>
<circle cx="325.20" cy="299.04" r="0.85" fill="#8e5329" opacity="0.6"/>
<circle cx="326.17" cy="289.19" r="0.85" fill="#8e5329" opacity="0.6"/>
<circle cx="325.07" cy="278.56" r="0.85" fill="#8e5329" opacity="0.6"/>
<circle cx="324.88" cy="287.38" r="0.85" fill="#8e5329" opacity="0.6"/>
<circle cx="325.13" cy="283.12" r="0.85" fill="#8e5329" opacity="0.6"/>
<circle cx="324.74" cy="293.07" r="0.85" fill="#8e5329" opacity="0.6"/>
<circle cx="324.95" cy="291.75" r="0.85" fill="#8e5329" opacity="0.6"/>
<circle cx="325.45" cy="289.43" r="0.85" fill="#8e5329" opacity="0.6"/>
<circle cx="326.13" cy="298.11" r="0.85" fill="#8e5329" opacity="0.6"/>
<circle cx="325.31" cy="293.55" r="0.85" fill="#8e5329" opacity="0.6"/>
<circle cx="324.89" cy="295.39" r="0.85" fill="#8e5329" opacity="0.6"/>
<circle cx="326.03" cy="311.94" r="0.85" fill="#8e5329" opacity="0.6"/>
<circle cx="326.64" cy="295.45" r="0.85" fill="#8e5329" opacity="0.6"/>
<circle cx="326.57" cy="281.08" r="0.85" fill="#8e5329" opacity="0.6"/>
<circle cx="325.26" cy="310.71" r="0.85" fill="#8e5329" opacity="0.6"/>
<circle cx="326.49" cy="312.31" r="0.85" fill="#8e5329" opacity="0.6"/>
<circle cx="326.42" cy="305.65" r="0.85" fill="#8e5329" opacity="0.6"/>
<circle cx="325.86" cy="295.54" r="0.85" fill="#8e5329" opacity="0.6"/>
<circle cx="326.24" cy="312.20" r="0.85" fill="#8e5329" opacity="0.6"/>
<circle cx="325.74" cy="290.86" r="0.85" fill="#8e5329" opacity="0.6"/>
<circle cx="324.76" cy="294.81" r="0.85" fill="#8e5329" opacity="0.6"/>
<circle cx="325.91" cy="300.57" r="0.85" fill="#8e5329" opacity="0.6"/>
<circle cx="326.48" cy="298.46" r="0.85" fill="#8e5329" opacity="0.6"/>
<circle cx="324.81" cy="280.21" r="0.85" fill="#8e5329" opacity="0.6"/>
<circle cx="324.48" cy="287.57" r="0.85" fill="#8e5329" opacity="0.6"/>
<circle cx="324.60" cy="279.15" r="0.85" fill="#8e5329" opacity="0.6"/>
<circle cx="325.13" cy="284.78" r="0.85" fill="#8e5329" opacity="0.6"/>
<circle cx="325.28" cy="293.60" r="0.85" fill="#8e5329" opacity="0.6"/>
<circle cx="325.45" cy="288.03" r="0.85" fill="#8e5329" opacity="0.6"/>
<circle cx="326.21" cy="276.39" r="0.85" fill="#8e5329" opacity="0.6"/>
<circle cx="325.00" cy="284.52" r="0.85" fill="#8e5329" opacity="0.6"/>
<circle cx="325.18" cy="306.83" r="0.85" fill="#8e5329" opacity="0.6"/>
<circle cx="326.37" cy="299.90" r="0.85" fill="#8e5329" opacity="0.6"/>
<circle cx="326.63" cy="283.15" r="0.85" fill="#8e5329" opacity="0.6"/>
<circle cx="324.53" cy="285.65" r="0.85" fill="#8e5329" opacity="0.6"/>
<circle cx="325.81" cy="314.41" r="0.85" fill="#8e5329" opacity="0.6"/>
<circle cx="326.75" cy="291.42" r="0.85" fill="#8e5329" opacity="0.6"/>
<circle cx="324.43" cy="289.83" r="0.85" fill="#8e5329" opacity="0.6"/>
<circle cx="326.62" cy="317.62" r="0.85" fill="#8e5329" opacity="0.6"/>
<circle cx="325.10" cy="288.28" r="0.85" fill="#8e5329" opacity="0.6"/>
<circle cx="325.94" cy="307.97" r="0.85" fill="#8e5329" opacity="0.6"/>
<circle cx="326.50" cy="317.59" r="0.85" fill="#8e5329" opacity="0.6"/>
<circle cx="325.55" cy="299.54" r="0.85" fill="#8e5329" opacity="0.6"/>
<circle cx="325.08" cy="279.37" r="0.85" fill="#8e5329" opacity="0.6"/>
<circle cx="325.10" cy="312.59" r="0.85" fill="#8e5329" opacity="0.6"/>
<circle cx="325.86" cy="306.77" r="0.85" fill="#8e5329" opacity="0.6"/>
<circle cx="326.02" cy="284.90" r="0.85" fill="#8e5329" opacity="0.6"/>
<circle cx="327.08" cy="317.76" r="0.85" fill="#8e5329" opacity="0.6"/>
<circle cx="324.91" cy="294.36" r="0.85" fill="#8e5329" opacity="0.6"/>
<circle cx="324.82" cy="317.12" r="0.85" fill="#8e5329" opacity="0.6"/>
<circle cx="326.25" cy="297.84" r="0.85" fill="#8e5329" opacity="0.6"/>
<circle cx="325.39" cy="304.76" r="0.85" fill="#8e5329" opacity="0.6"/>
<circle cx="326.76" cy="289.39" r="0.85" fill="#8e5329" opacity="0.6"/>
<circle cx="325.97" cy="302.63" r="0.85" fill="#8e5329" opacity="0.6"/>
<circle cx="324.88" cy="277.32" r="0.85" fill="#8e5329" opacity="0.6"/>
<circle cx="326.73" cy="277.99" r="0.85" fill="#8e5329" opacity="0.6"/>
<circle cx="325.24" cy="281.50" r="0.85" fill="#8e5329" opacity="0.6"/>
<circle cx="326.53" cy="300.19" r="0.85" fill="#8e5329" opacity="0.6"/>
<circle cx="325.14" cy="309.52" r="0.85" fill="#8e5329" opacity="0.6"/>
<circle cx="326.41" cy="316.04" r="0.85" fill="#8e5329" opacity="0.6"/>
<circle cx="326.41" cy="304.36" r="0.85" fill="#8e5329" opacity="0.6"/>
<circle cx="325.76" cy="300.74" r="0.85" fill="#8e5329" opacity="0.6"/>
<circle cx="326.14" cy="313.44" r="0.85" fill="#8e5329" opacity="0.6"/>
<circle cx="324.95" cy="282.59" r="0.85" fill="#8e5329" opacity="0.6"/>
<circle cx="325.17" cy="306.44" r="0.85" fill="#8e5329" opacity="0.6"/>
<circle cx="324.87" cy="279.51" r="0.85" fill="#8e5329" opacity="0.6"/>
<circle cx="326.04" cy="276.45" r="0.85" fill="#8e5329" opacity="0.6"/>
<circle cx="325.74" cy="277.86" r="0.85" fill="#8e5329" opacity="0.6"/>
<circle cx="326.76" cy="282.70" r="0.85" fill="#8e5329" opacity="0.6"/>
<circle cx="326.68" cy="280.40" r="0.85" fill="#8e5329" opacity="0.6"/>
<circle cx="326.27" cy="296.24" r="0.85" fill="#8e5329" opacity="0.6"/>
<circle cx="324.70" cy="276.20" r="0.95" fill="#2a2a35"/>
<circle cx="326.70" cy="277.30" r="0.95" fill="#2a2a35"/>
<circle cx="327.70" cy="299.74" r="0.95" fill="#2a2a35"/>
<circle cx="327.90" cy="302.48" r="0.95" fill="#2a2a35"/>
<circle cx="324.40" cy="305.76" r="0.95" fill="#2a2a35"/>
<rect x="323.30000000000007" y="319.1" width="4.8" height="1.8" fill="#3a3030"/>
<path d="M343.10,320.88 C344.27,320.73 349.27,321.06 350.10,320.00 C350.93,318.94 348.73,316.71 348.10,314.52 C347.47,312.33 346.63,308.87 346.30,306.86 C345.97,304.85 346.03,304.49 346.10,302.48 C346.17,300.47 346.53,297.37 346.70,294.81 C346.87,292.26 347.07,289.52 347.10,287.15 C347.13,284.78 347.03,282.40 346.90,280.58 C346.77,278.75 346.60,277.29 346.30,276.20 C346.00,275.11 345.63,274.47 345.10,274.01 C344.57,273.55 343.43,273.55 343.10,273.46 L343.10,273.46 C342.77,273.55 341.63,273.55 341.10,274.01 C340.57,274.47 340.20,275.11 339.90,276.20 C339.60,277.29 339.43,278.75 339.30,280.58 C339.17,282.40 339.07,284.78 339.10,287.15 C339.13,289.52 339.33,292.26 339.50,294.81 C339.67,297.37 340.03,300.47 340.10,302.48 C340.17,304.49 340.23,304.85 339.90,306.86 C339.57,308.87 338.73,312.33 338.10,314.52 C337.47,316.71 335.27,318.94 336.10,320.00 C336.93,321.06 341.93,320.73 343.10,320.88Z" fill="#F6B767" stroke="#EDA855" stroke-width="0.25"/>
<circle cx="342.65" cy="305.52" r="0.85" fill="#8e5329" opacity="0.6"/>
<circle cx="342.65" cy="306.81" r="0.85" fill="#8e5329" opacity="0.6"/>
<circle cx="342.56" cy="313.58" r="0.85" fill="#8e5329" opacity="0.6"/>
<circle cx="342.15" cy="293.11" r="0.85" fill="#8e5329" opacity="0.6"/>
<circle cx="342.17" cy="282.74" r="0.85" fill="#8e5329" opacity="0.6"/>
<circle cx="343.18" cy="276.05" r="0.85" fill="#8e5329" opacity="0.6"/>
<circle cx="343.34" cy="301.05" r="0.85" fill="#8e5329" opacity="0.6"/>
<circle cx="343.02" cy="318.05" r="0.85" fill="#8e5329" opacity="0.6"/>
<circle cx="343.10" cy="313.04" r="0.85" fill="#8e5329" opacity="0.6"/>
<circle cx="342.85" cy="307.50" r="0.85" fill="#8e5329" opacity="0.6"/>
<circle cx="342.69" cy="306.70" r="0.85" fill="#8e5329" opacity="0.6"/>
<circle cx="343.46" cy="297.91" r="0.85" fill="#8e5329" opacity="0.6"/>
<circle cx="343.74" cy="316.35" r="0.85" fill="#8e5329" opacity="0.6"/>
<circle cx="342.08" cy="285.01" r="0.85" fill="#8e5329" opacity="0.6"/>
<circle cx="342.27" cy="317.64" r="0.85" fill="#8e5329" opacity="0.6"/>
<circle cx="342.45" cy="314.58" r="0.85" fill="#8e5329" opacity="0.6"/>
<circle cx="343.34" cy="297.65" r="0.85" fill="#8e5329" opacity="0.6"/>
<circle cx="343.53" cy="315.34" r="0.85" fill="#8e5329" opacity="0.6"/>
<circle cx="343.67" cy="317.97" r="0.85" fill="#8e5329" opacity="0.6"/>
<circle cx="343.12" cy="275.85" r="0.85" fill="#8e5329" opacity="0.6"/>
<circle cx="342.39" cy="289.37" r="0.85" fill="#8e5329" opacity="0.6"/>
<circle cx="343.13" cy="312.33" r="0.85" fill="#8e5329" opacity="0.6"/>
<circle cx="344.21" cy="311.51" r="0.85" fill="#8e5329" opacity="0.6"/>
<circle cx="342.86" cy="301.54" r="0.85" fill="#8e5329" opacity="0.6"/>
<circle cx="343.37" cy="275.30" r="0.85" fill="#8e5329" opacity="0.6"/>
<circle cx="342.11" cy="294.90" r="0.85" fill="#8e5329" opacity="0.6"/>
<circle cx="342.86" cy="302.31" r="0.85" fill="#8e5329" opacity="0.6"/>
<circle cx="342.64" cy="292.04" r="0.85" fill="#8e5329" opacity="0.6"/>
<circle cx="343.51" cy="292.30" r="0.85" fill="#8e5329" opacity="0.6"/>
<circle cx="343.62" cy="291.17" r="0.85" fill="#8e5329" opacity="0.6"/>
<circle cx="342.29" cy="281.30" r="0.85" fill="#8e5329" opacity="0.6"/>
<circle cx="343.00" cy="298.66" r="0.85" fill="#8e5329" opacity="0.6"/>
<circle cx="342.74" cy="288.34" r="0.85" fill="#8e5329" opacity="0.6"/>
<circle cx="342.99" cy="277.32" r="0.85" fill="#8e5329" opacity="0.6"/>
<circle cx="342.38" cy="283.09" r="0.85" fill="#8e5329" opacity="0.6"/>
<circle cx="343.17" cy="315.53" r="0.85" fill="#8e5329" opacity="0.6"/>
<circle cx="342.42" cy="317.18" r="0.85" fill="#8e5329" opacity="0.6"/>
<circle cx="343.17" cy="299.86" r="0.85" fill="#8e5329" opacity="0.6"/>
<circle cx="343.38" cy="311.43" r="0.85" fill="#8e5329" opacity="0.6"/>
<circle cx="343.44" cy="298.90" r="0.85" fill="#8e5329" opacity="0.6"/>
<circle cx="344.21" cy="285.49" r="0.85" fill="#8e5329" opacity="0.6"/>
<circle cx="342.32" cy="299.59" r="0.85" fill="#8e5329" opacity="0.6"/>
<circle cx="343.31" cy="299.42" r="0.85" fill="#8e5329" opacity="0.6"/>
<circle cx="342.65" cy="274.60" r="0.85" fill="#8e5329" opacity="0.6"/>
<circle cx="343.70" cy="317.20" r="0.85" fill="#8e5329" opacity="0.6"/>
<circle cx="344.13" cy="315.56" r="0.85" fill="#8e5329" opacity="0.6"/>
<circle cx="344.25" cy="287.83" r="0.85" fill="#8e5329" opacity="0.6"/>
<circle cx="343.98" cy="305.89" r="0.85" fill="#8e5329" opacity="0.6"/>
<circle cx="342.04" cy="315.89" r="0.85" fill="#8e5329" opacity="0.6"/>
<circle cx="343.10" cy="274.01" r="0.95" fill="#2a2a35"/>
<rect x="340.70000000000005" y="319.1" width="4.8" height="1.8" fill="#3a3030"/>
<path d="M360.50,319.45 C360.75,319.00 361.42,318.27 362.00,316.71 C362.58,315.16 363.25,312.52 364.00,310.14 C364.75,307.77 365.98,304.49 366.50,302.48 C367.02,300.47 367.18,299.93 367.10,298.10 C367.02,296.28 366.60,293.54 366.00,291.53 C365.40,289.52 364.25,287.51 363.50,286.06 C362.75,284.60 362.00,283.41 361.50,282.77 C361.00,282.13 360.67,282.31 360.50,282.22 L360.50,282.22 C360.33,282.31 360.00,282.13 359.50,282.77 C359.00,283.41 358.25,284.60 357.50,286.06 C356.75,287.51 355.60,289.52 355.00,291.53 C354.40,293.54 353.98,296.28 353.90,298.10 C353.82,299.93 353.98,300.47 354.50,302.48 C355.02,304.49 356.25,307.77 357.00,310.14 C357.75,312.52 358.42,315.16 359.00,316.71 C359.58,318.27 360.25,319.00 360.50,319.45Z" fill="#F6B767" stroke="#EDA855" stroke-width="0.25"/>
<circle cx="360.15" cy="297.97" r="0.85" fill="#8e5329" opacity="0.6"/>
<circle cx="360.38" cy="282.99" r="0.85" fill="#8e5329" opacity="0.6"/>
<circle cx="361.30" cy="310.93" r="0.85" fill="#8e5329" opacity="0.6"/>
<circle cx="360.86" cy="306.42" r="0.85" fill="#8e5329" opacity="0.6"/>
<circle cx="359.33" cy="289.69" r="0.85" fill="#8e5329" opacity="0.6"/>
<circle cx="358.90" cy="297.96" r="0.85" fill="#8e5329" opacity="0.6"/>
<circle cx="359.71" cy="312.54" r="0.85" fill="#8e5329" opacity="0.6"/>
<circle cx="359.53" cy="293.24" r="0.85" fill="#8e5329" opacity="0.6"/>
<circle cx="360.81" cy="309.90" r="0.85" fill="#8e5329" opacity="0.6"/>
<circle cx="360.88" cy="307.65" r="0.85" fill="#8e5329" opacity="0.6"/>
<circle cx="359.16" cy="297.01" r="0.85" fill="#8e5329" opacity="0.6"/>
<circle cx="360.25" cy="295.63" r="0.85" fill="#8e5329" opacity="0.6"/>
<circle cx="360.81" cy="306.09" r="0.85" fill="#8e5329" opacity="0.6"/>
<circle cx="362.38" cy="299.87" r="0.85" fill="#8e5329" opacity="0.6"/>
<circle cx="361.45" cy="288.48" r="0.85" fill="#8e5329" opacity="0.6"/>
<circle cx="361.34" cy="295.17" r="0.85" fill="#8e5329" opacity="0.6"/>
<circle cx="361.04" cy="291.21" r="0.85" fill="#8e5329" opacity="0.6"/>
<circle cx="361.20" cy="306.49" r="0.85" fill="#8e5329" opacity="0.6"/>
<circle cx="360.00" cy="315.04" r="0.85" fill="#8e5329" opacity="0.6"/>
<circle cx="358.85" cy="294.79" r="0.85" fill="#8e5329" opacity="0.6"/>
<circle cx="358.70" cy="300.33" r="0.85" fill="#8e5329" opacity="0.6"/>
<circle cx="359.18" cy="294.64" r="0.85" fill="#8e5329" opacity="0.6"/>
<circle cx="359.90" cy="307.25" r="0.85" fill="#8e5329" opacity="0.6"/>
<circle cx="359.53" cy="304.55" r="0.85" fill="#8e5329" opacity="0.6"/>
<circle cx="360.61" cy="310.30" r="0.85" fill="#8e5329" opacity="0.6"/>
<circle cx="359.38" cy="302.40" r="0.85" fill="#8e5329" opacity="0.6"/>
<circle cx="361.79" cy="295.79" r="0.85" fill="#8e5329" opacity="0.6"/>
<circle cx="360.26" cy="286.01" r="0.85" fill="#8e5329" opacity="0.6"/>
<circle cx="360.97" cy="314.85" r="0.85" fill="#8e5329" opacity="0.6"/>
<circle cx="360.78" cy="301.90" r="0.85" fill="#8e5329" opacity="0.6"/>
<circle cx="361.97" cy="293.41" r="0.85" fill="#8e5329" opacity="0.6"/>
<circle cx="361.34" cy="298.89" r="0.85" fill="#8e5329" opacity="0.6"/>
<circle cx="361.11" cy="311.99" r="0.85" fill="#8e5329" opacity="0.6"/>
<circle cx="360.88" cy="296.35" r="0.85" fill="#8e5329" opacity="0.6"/>
<circle cx="359.65" cy="297.64" r="0.85" fill="#8e5329" opacity="0.6"/>
<circle cx="361.24" cy="287.02" r="0.85" fill="#8e5329" opacity="0.6"/>
<circle cx="361.48" cy="304.22" r="0.85" fill="#8e5329" opacity="0.6"/>
<circle cx="361.08" cy="285.39" r="0.85" fill="#8e5329" opacity="0.6"/>
<circle cx="359.23" cy="306.38" r="0.85" fill="#8e5329" opacity="0.6"/>
<circle cx="360.97" cy="313.56" r="0.85" fill="#8e5329" opacity="0.6"/>
<circle cx="360.01" cy="314.16" r="0.85" fill="#8e5329" opacity="0.6"/>
<circle cx="361.06" cy="290.76" r="0.85" fill="#8e5329" opacity="0.6"/>
<circle cx="359.71" cy="305.91" r="0.85" fill="#8e5329" opacity="0.6"/>
<circle cx="360.08" cy="299.62" r="0.85" fill="#8e5329" opacity="0.6"/>
<circle cx="361.15" cy="304.54" r="0.85" fill="#8e5329" opacity="0.6"/>
<circle cx="361.04" cy="308.02" r="0.85" fill="#8e5329" opacity="0.6"/>
<circle cx="360.97" cy="305.81" r="0.85" fill="#8e5329" opacity="0.6"/>
<circle cx="360.16" cy="288.04" r="0.85" fill="#8e5329" opacity="0.6"/>
<circle cx="361.02" cy="295.99" r="0.85" fill="#8e5329" opacity="0.6"/>
<circle cx="359.70" cy="282.77" r="0.95" fill="#2a2a35"/>
<circle cx="361.30" cy="283.32" r="0.95" fill="#2a2a35"/>
<rect x="358.1" y="319.1" width="4.8" height="1.8" fill="#3a3030"/>
<text x="290.90000000000003" y="257.6" font-size="6.8" text-anchor="middle" fill="#D8365A" font-weight="normal" textLength="11.0" lengthAdjust="spacingAndGlyphs" stroke="#D8365A" stroke-width="0.08">****</text>
<text x="308.3" y="258.6" font-size="6.6" text-anchor="middle" fill="#333" font-weight="normal" textLength="5.4" lengthAdjust="spacingAndGlyphs" stroke="#333" stroke-width="0.12">ns</text>
<text x="325.70000000000005" y="258.6" font-size="6.6" text-anchor="middle" fill="#333" font-weight="normal" textLength="5.4" lengthAdjust="spacingAndGlyphs" stroke="#333" stroke-width="0.12">ns</text>
<text x="343.1" y="258.6" font-size="6.6" text-anchor="middle" fill="#333" font-weight="normal" textLength="5.4" lengthAdjust="spacingAndGlyphs" stroke="#333" stroke-width="0.12">ns</text>
<path d="M290.90000000000003,273.8 V272.0 H308.3 V273.8" fill="none" stroke="#333" stroke-width="1"/>
<text x="299.6" y="269.7" font-size="6.9" text-anchor="middle" fill="#D8365A" font-weight="normal" textLength="18.299999999999997" lengthAdjust="spacingAndGlyphs" stroke="#D8365A" stroke-width="0.1">0.0015</text>
<path d="M325.70000000000005,268.0 V266.2 H343.1 V268.0" fill="none" stroke="#333" stroke-width="1"/>
<text x="334.40000000000003" y="263.9" font-size="6.9" text-anchor="middle" fill="#333" font-weight="normal" textLength="12.2" lengthAdjust="spacingAndGlyphs" stroke="#333" stroke-width="0.1">0.74</text>
<text transform="translate(157.00,243.10) rotate(-90)" font-size="7.9" text-anchor="middle" fill="#3a3a3a" stroke="#3a3a3a" stroke-width="0.15" textLength="55.8" lengthAdjust="spacingAndGlyphs">Normalized counts</text>
<text transform="translate(185.40,340.90) rotate(-45)" font-size="7.2" text-anchor="end" fill="#3a3a3a" stroke="#3a3a3a" stroke-width="0.25" textLength="23" lengthAdjust="spacingAndGlyphs">DP (Pre)</text>
<text transform="translate(202.80,340.90) rotate(-45)" font-size="7.2" text-anchor="end" fill="#3a3a3a" stroke="#3a3a3a" stroke-width="0.25" textLength="21.5" lengthAdjust="spacingAndGlyphs">DP (On)</text>
<text transform="translate(220.20,340.90) rotate(-45)" font-size="7.2" text-anchor="end" fill="#3a3a3a" stroke="#3a3a3a" stroke-width="0.25" textLength="27" lengthAdjust="spacingAndGlyphs">CDP (Pre)</text>
<text transform="translate(237.60,340.90) rotate(-45)" font-size="7.2" text-anchor="end" fill="#3a3a3a" stroke="#3a3a3a" stroke-width="0.25" textLength="26.3" lengthAdjust="spacingAndGlyphs">CDP (On)</text>
<text transform="translate(253.60,343.60) rotate(-45)" font-size="7.2" text-anchor="end" fill="#3a3a3a" stroke="#3a3a3a" stroke-width="0.25" textLength="15.5" lengthAdjust="spacingAndGlyphs">CD30</text>
<text x="251.80" y="341.20" font-size="4.4" fill="#3a3a3a">+</text>
<line x1="171.3" y1="363.8" x2="241.0" y2="363.8" stroke="#1e1e1e" stroke-width="1.2"/>
<text transform="translate(294.50,340.90) rotate(-45)" font-size="7.2" text-anchor="end" fill="#3a3a3a" stroke="#3a3a3a" stroke-width="0.25" textLength="23" lengthAdjust="spacingAndGlyphs">DP (Pre)</text>
<text transform="translate(311.90,340.90) rotate(-45)" font-size="7.2" text-anchor="end" fill="#3a3a3a" stroke="#3a3a3a" stroke-width="0.25" textLength="21.5" lengthAdjust="spacingAndGlyphs">DP (On)</text>
<text transform="translate(329.30,340.90) rotate(-45)" font-size="7.2" text-anchor="end" fill="#3a3a3a" stroke="#3a3a3a" stroke-width="0.25" textLength="27" lengthAdjust="spacingAndGlyphs">CDP (Pre)</text>
<text transform="translate(346.70,340.90) rotate(-45)" font-size="7.2" text-anchor="end" fill="#3a3a3a" stroke="#3a3a3a" stroke-width="0.25" textLength="26.3" lengthAdjust="spacingAndGlyphs">CDP (On)</text>
<text transform="translate(362.70,343.60) rotate(-45)" font-size="7.2" text-anchor="end" fill="#3a3a3a" stroke="#3a3a3a" stroke-width="0.25" textLength="15.5" lengthAdjust="spacingAndGlyphs">CD30</text>
<text x="360.90" y="341.20" font-size="4.4" fill="#3a3a3a">+</text>
<line x1="282.3" y1="363.8" x2="351.1" y2="363.8" stroke="#1e1e1e" stroke-width="1.2"/>
<text x="197.2" y="374.0" font-size="8.2" text-anchor="start" fill="#3a3a3a" font-weight="normal" textLength="16.6" lengthAdjust="spacingAndGlyphs" stroke="#3a3a3a" stroke-width="0.12">CD30</text>
<line x1="214.39999999999998" y1="369.03200000000004" x2="215.99999999999997" y2="369.03200000000004" stroke="#3a3a3a" stroke-width="0.6"/>
<text x="308.3" y="374.0" font-size="8.2" text-anchor="start" fill="#3a3a3a" font-weight="normal" textLength="16.6" lengthAdjust="spacingAndGlyphs" stroke="#3a3a3a" stroke-width="0.12">CD30</text>
<line x1="325.50000000000006" y1="369.03200000000004" x2="327.1000000000001" y2="369.03200000000004" stroke="#3a3a3a" stroke-width="0.6"/>
</svg>
<div class="bd"></div>
</body></html>
